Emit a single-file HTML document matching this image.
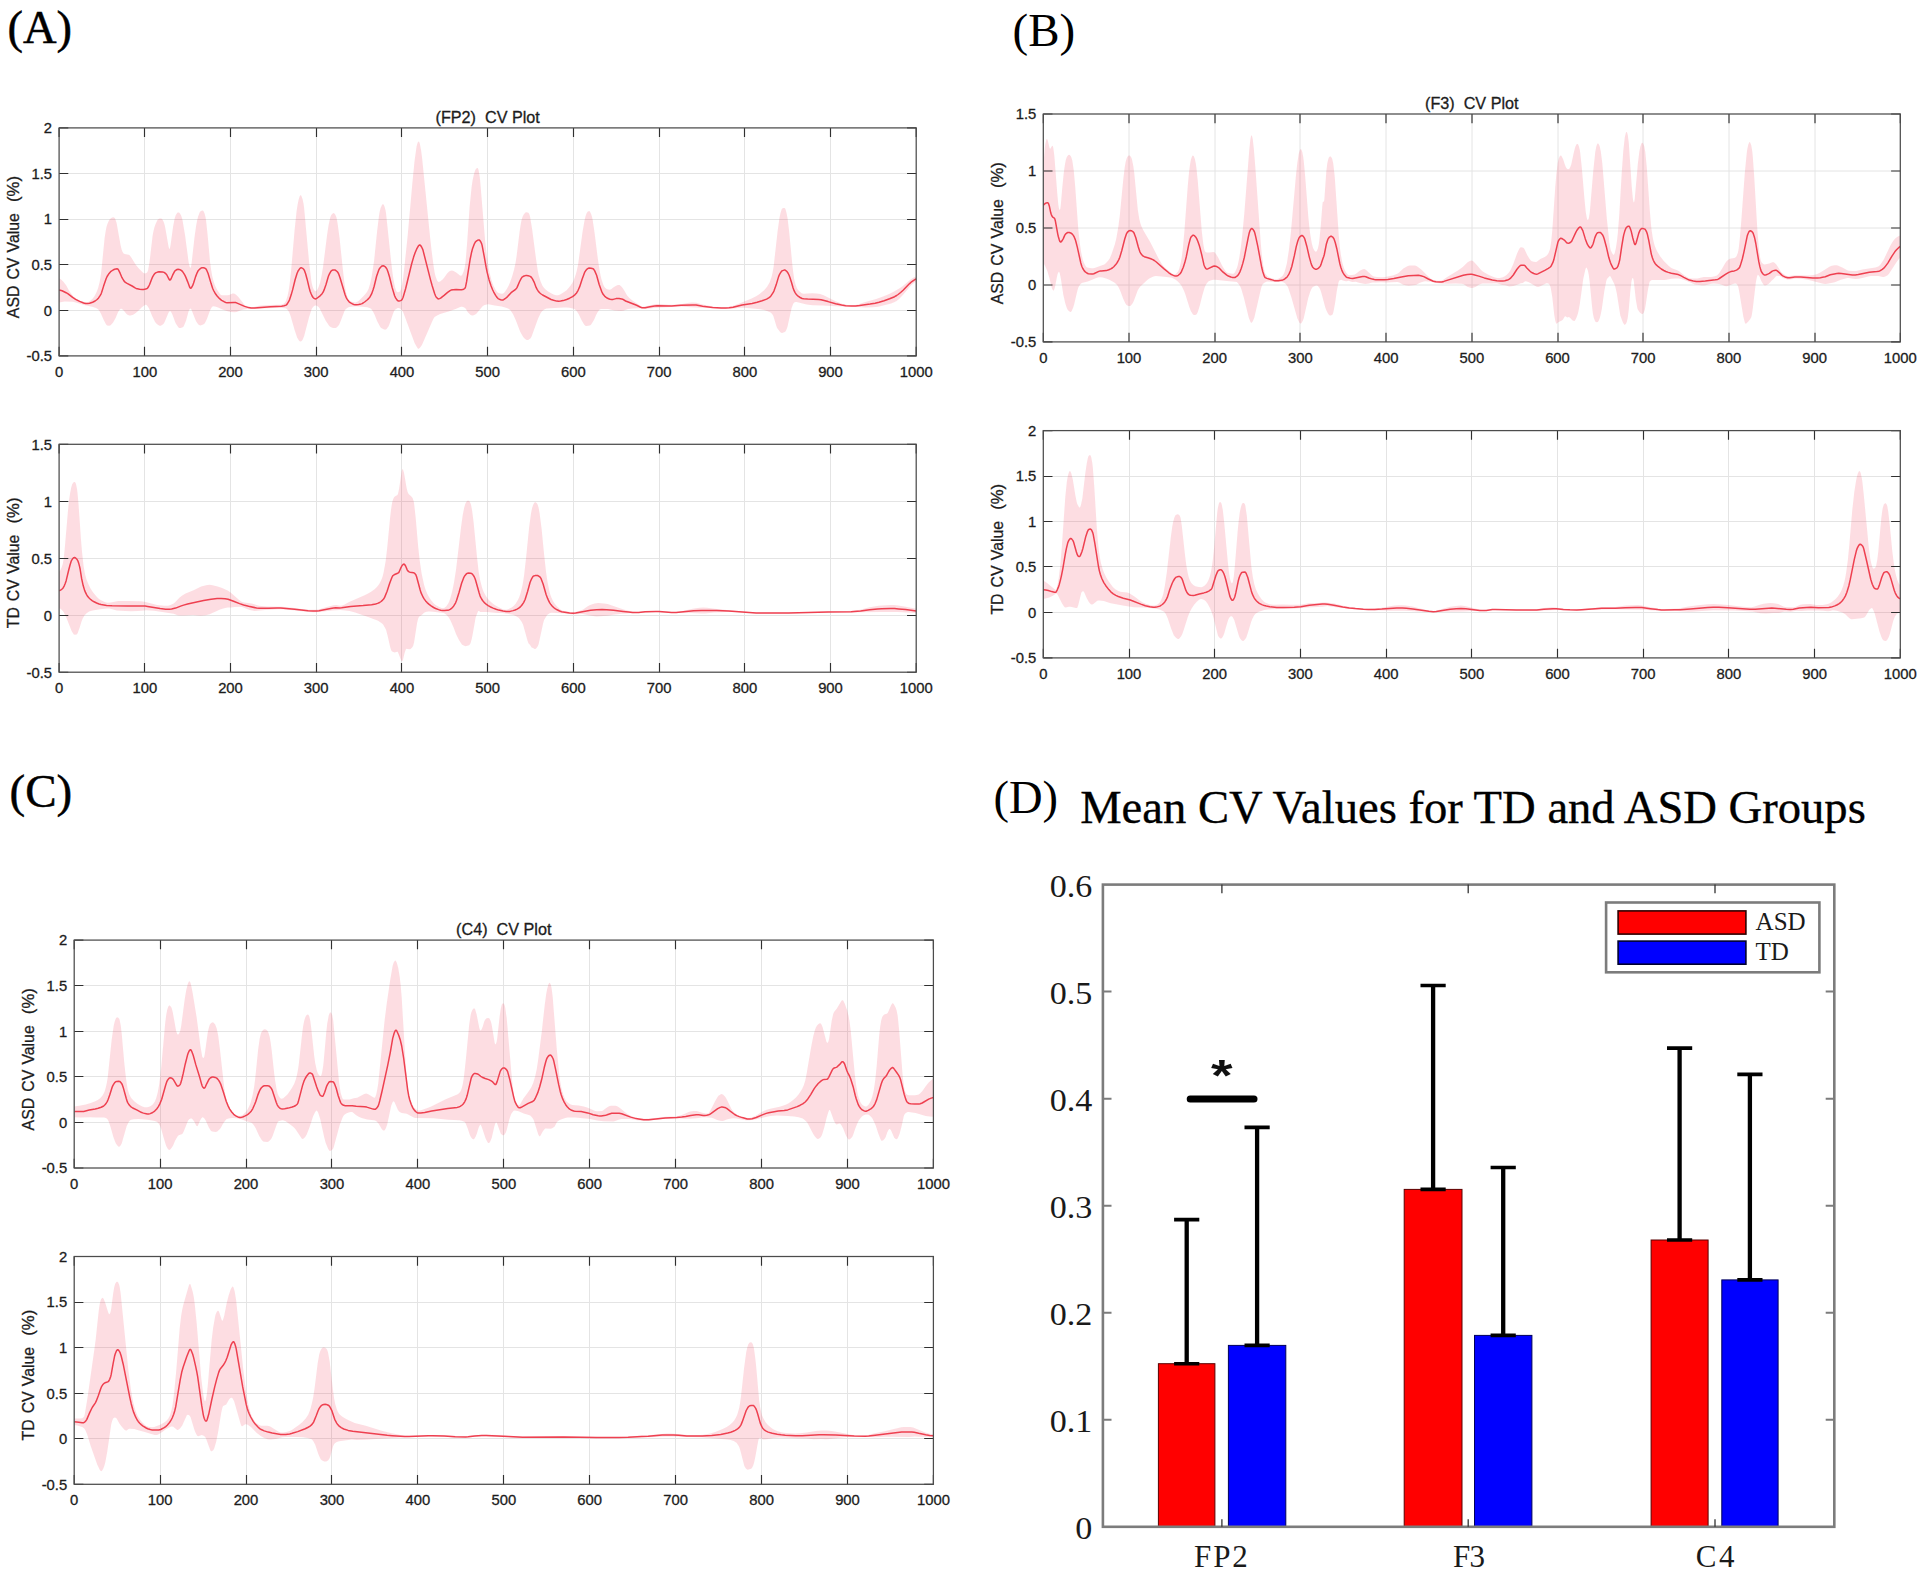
<!DOCTYPE html>
<html lang="en"><head><meta charset="utf-8"><title>Mean CV Values for TD and ASD Groups</title>
<style>html,body{margin:0;padding:0;background:#fff}svg{display:block}</style></head>
<body>
<svg width="1921" height="1574" viewBox="0 0 1921 1574">
<rect width="1921" height="1574" fill="#fff"/>
<g id="plotA1">
<clipPath id="clipA1"><rect x="59.1" y="127.9" width="857.1" height="228.0"/></clipPath>
<path d="M144.5 127.9V355.9M230.5 127.9V355.9M316.5 127.9V355.9M401.5 127.9V355.9M487.5 127.9V355.9M573.5 127.9V355.9M659.5 127.9V355.9M744.5 127.9V355.9M830.5 127.9V355.9M59.1 310.5H916.25M59.1 264.5H916.25M59.1 219.5H916.25M59.1 173.5H916.25" stroke="#e4e4e4" stroke-width="1" fill="none"/>
<path d="M59.1 278.2L61.1 279.4L63.6 281.9L66.1 285.2L69.1 290.7L71.6 294.2L74.1 296.9L77.1 299.1L79.1 300.2L81.1 301.1L84.6 302.1L86.6 302.4L87.6 302.2L89.1 301.6L90.6 300.6L92.6 298.8L94.6 296.0L96.6 292.0L98.1 288.0L99.6 282.2L100.6 276.5L101.6 268.5L104.6 238.0L105.6 231.5L106.6 226.6L107.6 223.4L108.6 221.2L109.6 219.6L111.1 218.1L113.1 217.3L114.1 217.4L115.1 218.6L116.6 223.0L120.6 245.3L121.6 249.4L122.6 252.1L123.6 253.4L124.6 254.1L128.6 254.7L129.6 255.3L131.1 257.2L135.6 264.4L138.6 268.2L143.1 272.8L144.1 273.3L145.1 273.4L146.1 273.0L147.1 272.4L147.6 271.6L148.1 270.2L149.6 261.4L152.6 235.7L153.6 230.6L154.6 226.8L155.6 224.0L157.1 220.7L157.6 219.8L158.6 218.9L159.6 218.5L161.1 218.4L162.1 219.0L163.6 221.7L164.6 224.8L165.1 227.0L168.6 246.8L169.1 248.6L169.6 248.9L170.1 247.5L170.6 244.8L173.1 226.6L174.6 218.7L175.6 215.5L176.6 213.7L177.6 212.6L178.1 212.4L179.1 212.6L180.1 213.7L181.1 215.5L182.1 218.5L182.6 220.7L185.1 235.4L188.6 262.0L189.6 266.6L190.1 267.8L190.6 267.8L191.1 266.2L191.6 263.2L194.6 236.5L196.1 225.9L197.1 220.5L198.1 216.6L199.6 212.6L200.6 211.2L201.6 210.7L202.6 210.6L203.1 210.7L203.6 211.2L204.6 213.5L205.6 217.6L206.1 220.7L207.6 234.7L210.1 262.3L211.1 269.6L212.1 275.4L213.6 281.5L215.1 285.7L217.1 289.7L220.1 294.2L221.1 295.0L222.1 295.3L227.6 295.3L229.1 295.1L232.6 293.5L233.6 293.4L234.6 293.7L236.1 294.8L238.6 297.3L244.6 304.9L245.6 305.6L247.1 306.3L250.1 307.2L253.1 307.2L259.1 305.8L262.1 305.4L270.1 304.9L280.6 304.7L282.1 304.5L283.1 304.1L284.6 302.9L285.6 301.6L286.1 300.6L287.6 295.7L288.6 291.0L289.6 284.3L291.1 270.8L294.6 230.0L296.6 211.1L297.6 204.4L298.6 199.8L299.6 196.4L300.1 195.5L300.6 195.2L301.1 195.5L301.6 196.4L302.6 199.2L303.6 204.0L304.1 207.7L309.1 262.1L311.1 279.1L311.6 282.4L312.6 286.8L313.6 289.2L314.6 290.7L315.1 291.1L315.6 291.3L316.1 291.1L317.1 290.0L318.6 287.0L320.1 282.4L321.6 275.5L323.1 266.6L327.1 234.7L328.6 224.9L330.1 218.1L331.1 215.3L332.1 213.9L333.1 213.2L333.6 213.1L334.1 213.3L335.1 214.3L336.1 216.4L336.6 218.1L337.6 223.4L339.6 238.2L342.6 267.2L344.6 284.4L346.1 292.4L347.1 296.0L348.1 298.8L349.1 300.5L350.6 301.4L354.1 302.3L355.6 302.4L356.6 302.1L357.6 301.6L359.1 300.4L363.6 296.1L365.6 293.8L367.1 291.7L368.6 288.7L370.1 283.8L371.6 277.1L374.1 260.7L377.1 231.2L379.1 215.1L379.6 212.1L380.6 208.0L382.1 204.7L382.6 204.3L383.1 204.2L383.6 204.6L384.6 206.7L385.6 210.5L386.1 213.7L391.1 261.3L392.6 273.7L393.6 280.2L395.1 287.4L396.1 290.6L396.6 291.6L397.1 292.1L398.1 292.2L399.1 291.9L400.1 291.2L401.1 288.8L402.1 284.2L403.1 278.0L404.6 265.2L407.6 236.2L412.6 180.4L414.6 160.5L416.6 146.3L417.6 142.8L418.1 141.9L418.6 141.5L419.1 141.8L419.6 142.9L420.1 144.9L421.1 150.5L422.1 158.1L430.1 237.2L431.6 250.7L433.6 266.1L434.6 272.4L435.6 276.6L437.1 280.5L437.6 281.3L438.1 281.8L438.6 282.0L440.1 281.5L442.6 279.4L444.1 277.8L447.1 273.5L449.1 271.6L450.6 270.7L452.1 270.4L453.6 270.9L456.6 272.8L459.6 275.2L460.6 275.7L461.6 275.4L462.1 274.9L463.6 271.5L464.6 267.9L465.6 261.5L467.1 243.1L469.6 207.0L471.6 187.1L472.6 180.3L474.1 173.5L475.1 170.4L475.6 169.4L476.1 168.7L477.1 168.0L477.6 168.0L478.1 168.7L478.6 170.3L479.6 176.0L480.1 180.1L485.1 240.6L486.6 254.0L488.6 267.8L489.6 272.8L491.1 278.8L492.6 283.6L493.6 286.1L495.6 289.8L497.1 291.9L498.1 292.7L500.1 293.5L502.1 293.8L503.1 293.6L504.1 292.8L505.1 291.6L507.1 288.5L508.6 285.7L510.1 282.2L512.1 276.6L514.1 269.6L515.6 262.5L516.6 255.9L519.6 231.8L520.6 225.0L521.6 219.8L522.6 216.7L523.6 214.7L525.1 212.7L526.1 212.3L527.6 212.6L528.6 213.1L529.1 213.8L529.6 215.0L530.1 217.0L532.1 228.9L536.1 259.6L537.6 269.8L538.6 274.7L540.6 281.4L542.6 285.9L544.1 287.9L545.6 289.5L548.1 291.4L551.6 293.5L554.1 294.7L556.1 295.2L558.1 295.2L560.1 294.6L562.6 293.1L566.6 290.2L568.6 288.1L570.6 285.6L572.6 282.4L574.1 279.3L575.6 275.1L576.6 271.6L578.1 264.5L582.6 231.5L584.6 220.1L585.6 216.0L586.6 213.2L587.6 211.8L588.6 211.2L589.1 211.1L589.6 211.3L590.1 211.9L591.1 213.9L592.1 217.2L592.6 219.6L594.6 233.0L597.6 256.9L599.6 270.5L600.6 275.7L601.6 279.7L603.1 284.3L604.1 286.4L605.1 287.7L606.6 288.9L608.1 289.6L609.6 289.8L611.1 289.2L613.6 287.2L616.6 285.5L618.1 285.0L619.6 285.1L621.1 286.3L622.6 288.1L624.1 290.3L627.1 295.5L629.6 298.3L633.1 301.1L639.1 305.1L641.1 306.2L642.6 306.7L645.1 306.5L650.1 305.2L656.6 304.0L659.6 304.0L668.6 304.8L672.6 304.8L682.1 303.9L689.1 302.7L692.6 302.4L696.1 302.8L702.6 304.5L712.6 306.5L720.6 307.4L725.6 307.4L732.6 306.0L738.1 304.1L751.6 298.6L756.1 296.2L759.6 294.0L764.1 290.2L767.1 286.8L769.6 282.5L771.6 276.7L772.6 272.6L773.6 266.8L777.6 231.2L779.6 217.1L780.6 212.7L781.6 209.6L782.1 208.8L782.6 208.3L783.6 208.0L784.6 208.0L785.1 208.5L785.6 209.6L786.6 213.2L787.6 218.6L789.1 231.1L792.6 267.3L794.1 278.7L795.6 284.7L797.1 288.4L798.1 290.0L799.1 291.1L801.6 293.2L802.6 293.6L803.6 293.8L812.1 293.3L816.6 293.6L820.1 294.0L823.6 295.3L835.1 301.1L842.6 304.1L845.1 304.6L848.1 304.9L852.6 305.2L855.1 305.1L858.1 304.4L863.6 302.6L876.1 299.0L883.1 296.6L888.6 294.3L894.1 291.5L899.6 288.3L902.6 286.2L910.6 279.4L913.6 277.6L916.2 276.6L916.2 281.4L914.1 282.7L911.1 285.3L903.1 294.8L899.1 298.9L896.6 301.0L894.1 302.3L891.1 303.4L882.1 305.8L878.1 306.7L872.6 307.3L865.1 307.4L855.1 306.8L836.1 306.3L822.6 305.5L812.6 305.3L806.6 304.5L796.6 302.1L795.6 302.1L794.6 302.3L793.6 303.2L793.1 304.1L791.6 308.1L787.6 326.3L786.6 329.3L785.6 331.2L785.1 331.7L784.1 332.3L782.1 332.9L781.1 332.7L780.1 332.1L777.1 328.1L776.1 325.3L773.6 316.7L773.1 315.4L772.1 313.9L770.6 312.6L767.1 310.9L764.1 309.9L760.6 309.2L744.1 307.7L740.6 307.8L732.1 308.8L722.6 308.8L691.1 307.3L681.1 306.4L656.1 307.8L645.1 308.9L640.1 308.3L632.6 308.6L628.1 309.1L623.1 310.7L621.1 310.9L614.6 310.4L608.1 309.0L601.1 308.9L600.1 309.2L599.6 309.6L597.6 312.2L596.1 314.9L594.1 319.7L592.1 323.1L591.1 324.5L590.6 325.0L589.6 325.5L586.6 326.1L585.6 325.9L585.1 325.6L584.1 324.4L581.6 320.2L578.6 314.0L576.6 311.1L575.1 309.4L573.6 308.7L569.6 307.8L566.6 307.4L563.1 307.4L546.6 308.4L544.6 309.2L542.6 310.7L541.6 311.7L540.6 313.3L538.1 318.6L531.6 336.5L530.6 338.2L529.6 339.1L528.1 340.0L527.1 340.1L526.1 339.7L524.6 338.5L523.6 337.5L522.6 336.1L520.1 331.4L516.1 321.0L513.1 314.2L510.6 310.6L509.6 309.6L508.1 308.6L505.1 307.4L501.6 306.6L494.6 305.5L489.6 304.4L488.1 304.3L486.6 304.4L484.1 305.3L482.6 306.3L476.1 313.9L473.6 315.3L472.1 315.6L470.6 315.0L469.1 313.6L467.6 311.9L466.1 309.3L465.1 308.0L463.1 307.0L462.1 306.8L461.1 306.8L459.6 307.2L455.6 308.9L448.6 311.4L440.1 314.0L437.1 315.4L434.6 317.1L433.6 318.4L432.6 320.4L422.6 343.6L421.6 345.5L420.1 347.6L419.1 348.6L418.6 348.8L418.1 348.7L417.1 347.6L414.6 343.0L403.1 312.1L402.1 310.5L400.6 308.9L399.6 308.2L398.6 307.9L397.6 308.0L396.1 308.9L395.1 309.8L394.1 311.1L393.1 313.5L389.6 323.8L388.6 326.2L386.6 328.9L386.1 329.3L385.1 329.7L383.6 329.3L382.1 328.6L381.1 327.9L380.1 326.7L377.1 321.0L374.6 314.7L373.1 311.7L371.1 308.8L369.6 308.0L367.1 307.3L364.6 306.9L356.1 306.3L353.6 306.4L351.1 306.7L349.1 307.1L347.6 307.8L345.6 309.3L344.6 310.8L340.1 322.6L339.1 324.7L338.1 326.0L336.6 327.4L335.6 328.0L334.6 328.1L333.1 327.9L331.1 327.3L330.1 326.7L329.1 325.7L325.6 320.4L319.6 308.3L318.6 307.1L317.1 306.0L316.1 305.6L315.1 305.6L314.1 306.1L313.1 307.0L312.1 308.3L311.6 309.3L309.1 317.0L304.1 336.3L302.6 339.7L301.6 341.1L300.6 341.6L299.6 341.2L298.6 340.1L297.1 337.4L294.6 330.1L290.6 316.1L289.1 312.1L287.1 309.2L286.1 308.4L285.1 308.2L282.6 307.9L279.6 307.8L247.1 308.9L243.6 309.6L240.1 310.6L236.6 311.9L234.6 312.2L230.6 311.9L227.6 311.3L223.1 309.8L218.1 307.4L215.1 306.5L213.1 306.3L212.6 306.6L211.6 307.6L210.1 310.2L207.1 318.4L205.6 321.7L204.6 323.4L203.6 324.3L202.6 324.8L201.1 325.3L200.1 325.4L199.1 325.1L198.6 324.7L197.6 323.5L196.1 321.2L195.1 319.1L191.6 309.9L191.1 308.9L190.6 308.5L190.1 308.7L189.6 309.2L188.6 311.2L186.1 320.4L184.6 324.3L183.6 326.4L183.1 327.0L182.1 327.6L180.6 328.0L179.6 328.1L179.1 327.9L178.1 327.1L176.1 324.1L175.1 322.0L172.6 314.9L171.1 312.1L170.1 311.1L169.6 311.2L168.6 312.6L164.6 321.9L163.6 323.7L162.1 325.0L160.6 325.7L159.6 325.7L158.1 325.0L156.1 323.3L155.1 322.0L152.1 315.9L149.1 308.5L147.1 305.4L146.1 304.8L145.6 304.8L144.6 305.2L142.1 307.1L138.1 311.1L135.1 313.6L133.1 314.7L130.6 315.6L129.1 315.5L127.1 314.4L126.1 313.6L124.1 311.0L122.6 309.5L121.6 308.8L120.6 308.8L119.6 309.8L118.1 312.1L115.6 317.9L113.1 322.6L110.6 325.2L110.1 325.5L109.1 325.8L107.1 325.4L106.1 324.6L103.6 319.7L101.1 314.0L99.6 311.3L98.1 309.3L96.1 308.1L92.1 306.8L85.1 305.3L73.1 301.7L64.6 301.6L59.1 302.6Z" fill="#f23f5c" fill-opacity="0.175" clip-path="url(#clipA1)"/>
<path d="M59.1 289.9L62.1 290.8L66.1 292.7L68.1 293.9L72.6 297.4L75.6 299.3L79.6 301.4L83.6 303.0L85.6 303.5L87.6 303.6L89.6 303.2L92.6 302.2L95.1 301.0L97.1 299.5L98.6 297.9L100.1 295.7L101.1 293.8L101.6 292.5L103.6 286.1L106.1 278.7L107.1 276.5L109.1 273.4L110.6 271.7L113.1 270.0L114.6 269.3L117.1 268.8L117.6 268.9L118.1 269.3L118.6 270.1L120.1 273.2L121.6 276.8L122.6 278.7L124.1 281.1L125.1 282.1L126.6 283.1L132.1 286.0L135.1 287.9L136.1 288.4L139.6 289.3L142.1 289.6L143.6 289.5L145.6 289.0L147.1 288.5L147.6 288.0L148.6 286.5L149.6 284.5L151.6 279.2L152.6 276.9L154.1 274.4L154.6 273.8L155.6 272.9L157.6 272.1L159.1 271.8L162.6 272.0L164.1 272.4L165.1 273.1L166.6 274.5L169.1 279.3L169.6 279.9L170.1 280.0L170.6 279.6L171.1 278.7L172.6 275.2L174.6 271.3L175.6 270.4L177.1 269.5L178.1 269.3L179.1 269.4L180.6 270.0L181.6 270.6L182.6 271.6L184.1 273.8L185.1 275.6L186.1 277.9L187.6 281.6L189.6 287.0L190.1 287.8L190.6 288.2L191.1 288.0L191.6 287.4L192.6 285.7L193.6 283.0L195.6 276.6L197.1 272.8L198.1 270.8L199.1 269.7L200.6 268.4L201.6 267.8L202.6 267.7L203.6 267.8L205.1 268.3L205.6 268.6L206.1 269.2L206.6 270.0L208.1 273.5L211.1 283.6L212.6 288.2L213.6 290.5L215.1 293.2L217.1 296.0L219.6 298.7L221.6 300.3L224.1 301.7L225.6 302.4L227.1 302.7L234.1 302.4L235.6 302.5L237.1 303.1L244.6 306.4L248.6 307.6L251.1 308.0L254.6 307.9L270.6 306.7L281.6 306.3L284.1 305.8L286.1 305.1L287.1 304.1L288.6 301.7L289.6 299.6L291.1 295.1L292.6 289.9L295.1 279.7L297.1 273.3L298.1 271.0L299.6 268.8L300.6 267.9L301.1 267.8L301.6 267.8L302.6 268.3L303.6 269.2L304.1 269.9L304.6 270.9L305.6 273.8L307.1 279.2L309.1 287.6L310.1 291.2L311.1 293.8L312.1 296.0L313.1 297.5L314.1 298.4L315.1 298.9L315.6 298.9L316.6 298.5L320.1 295.8L322.1 293.7L323.1 292.2L324.1 289.9L326.1 284.2L328.1 277.2L328.6 275.8L329.6 273.6L330.6 271.8L331.6 270.6L332.1 270.3L333.1 270.0L334.6 269.9L335.6 270.3L337.1 271.5L338.1 272.8L338.6 273.8L340.1 278.0L345.1 294.7L346.1 297.3L347.1 299.1L348.1 300.6L349.1 301.8L350.6 302.9L352.1 303.7L353.6 304.4L355.1 304.7L356.6 304.7L358.6 304.4L361.1 303.9L362.1 303.6L363.1 303.0L364.6 302.0L367.1 300.0L368.6 298.6L370.1 296.7L371.6 293.9L373.1 289.8L374.1 286.5L376.6 276.3L378.6 270.4L379.6 268.4L380.6 267.2L382.1 265.9L383.1 265.7L384.1 266.0L385.6 267.2L386.6 268.5L387.1 269.5L388.1 272.3L389.6 277.2L392.1 287.4L394.6 295.7L395.6 297.9L397.1 300.1L398.1 300.9L399.1 301.1L400.6 300.6L401.6 300.1L402.1 299.5L403.1 297.3L405.6 288.8L411.6 264.0L413.6 257.1L415.1 252.7L416.6 249.2L418.6 245.7L419.1 245.2L419.6 245.0L420.1 245.1L420.6 245.5L421.6 247.0L422.6 249.1L423.1 250.6L430.6 280.1L432.1 285.5L434.6 293.5L435.6 296.0L436.1 296.9L437.6 298.5L438.1 298.8L438.6 298.9L439.6 298.6L440.6 298.1L444.1 295.4L447.6 292.4L450.1 290.6L451.1 290.1L453.1 289.7L456.1 289.4L460.1 289.8L461.6 289.8L462.6 289.6L463.6 289.2L464.6 288.6L465.1 288.0L465.6 286.7L466.6 281.7L470.1 259.5L471.6 252.2L472.6 248.4L474.1 244.4L475.1 242.5L475.6 241.8L476.6 240.9L477.6 240.3L478.6 239.9L479.1 239.9L479.6 240.2L480.6 241.5L481.6 243.6L482.1 245.4L484.1 255.8L486.1 267.2L487.1 272.1L489.1 279.9L491.1 286.0L492.6 289.7L493.6 291.8L495.6 295.3L497.1 297.5L498.1 298.6L498.6 298.9L500.6 299.7L502.1 300.0L503.1 299.9L503.6 299.7L505.1 298.7L507.6 296.6L511.1 292.7L515.6 289.3L516.6 288.2L517.1 287.4L519.6 281.5L521.1 278.7L522.1 277.2L523.1 276.5L524.1 276.0L525.6 275.6L526.6 275.5L528.1 275.7L529.6 276.1L530.6 276.6L531.6 277.6L532.6 279.1L534.1 282.1L536.1 287.4L537.1 289.4L538.1 290.9L539.6 292.7L541.1 294.0L542.6 295.0L551.1 299.5L553.6 300.3L556.6 301.1L558.6 301.3L560.6 301.1L563.1 300.6L566.6 299.5L569.6 298.2L572.6 296.6L575.1 294.6L576.6 292.9L578.1 290.3L579.6 286.9L582.1 279.2L584.6 272.4L585.6 270.8L587.1 269.1L588.1 268.4L589.1 268.0L591.1 268.2L593.1 268.8L593.6 269.2L594.6 270.6L596.6 275.3L599.1 284.3L601.6 291.3L603.1 294.3L604.6 296.1L606.1 297.4L607.1 298.0L608.6 298.7L610.1 299.3L611.6 299.5L613.1 299.4L616.1 298.6L617.1 298.5L619.1 298.5L621.6 298.9L622.6 299.2L625.6 301.0L627.6 301.8L636.6 305.3L640.6 307.2L642.1 307.7L643.1 307.8L645.1 307.7L650.1 306.8L654.6 306.1L657.1 305.8L671.6 306.0L681.1 305.2L692.6 304.9L696.1 305.1L702.6 306.2L712.6 307.4L721.1 308.1L725.6 308.1L729.1 307.8L733.1 307.3L742.1 305.1L752.1 303.4L757.1 302.3L762.1 300.7L766.6 299.1L769.1 297.6L770.1 296.8L771.1 295.7L773.1 292.7L774.1 290.6L776.1 285.1L778.6 276.6L779.6 274.3L780.6 272.6L781.6 271.2L782.6 270.6L784.1 270.1L785.1 270.1L786.1 270.8L787.1 271.8L788.1 273.2L789.1 275.3L790.1 278.1L791.6 282.7L793.1 288.0L794.1 290.7L795.1 292.6L796.6 294.8L798.1 296.2L800.1 297.5L802.1 298.5L803.6 298.8L807.6 299.1L818.6 299.5L821.1 299.8L828.1 301.6L835.6 303.8L841.6 305.1L845.6 305.7L851.6 305.9L855.6 305.9L859.6 305.5L870.1 304.1L875.1 303.2L879.1 302.3L884.1 300.7L889.6 298.8L894.6 296.7L896.6 295.5L898.1 294.5L900.6 292.5L903.1 290.3L909.6 283.6L911.1 282.2L914.1 280.1L915.6 279.2L916.2 279.0" fill="none" stroke="#ee4050" stroke-width="1.5" stroke-linejoin="round" clip-path="url(#clipA1)"/>
<path d="M59.1 355.9v-9.2M59.1 127.9v9.2M144.5 355.9v-9.2M144.5 127.9v9.2M230.5 355.9v-9.2M230.5 127.9v9.2M316.5 355.9v-9.2M316.5 127.9v9.2M401.5 355.9v-9.2M401.5 127.9v9.2M487.5 355.9v-9.2M487.5 127.9v9.2M573.5 355.9v-9.2M573.5 127.9v9.2M659.5 355.9v-9.2M659.5 127.9v9.2M744.5 355.9v-9.2M744.5 127.9v9.2M830.5 355.9v-9.2M830.5 127.9v9.2M916.2 355.9v-9.2M916.2 127.9v9.2M59.1 355.9h9.2M916.25 355.9h-9.2M59.1 310.5h9.2M916.25 310.5h-9.2M59.1 264.5h9.2M916.25 264.5h-9.2M59.1 219.5h9.2M916.25 219.5h-9.2M59.1 173.5h9.2M916.25 173.5h-9.2M59.1 127.9h9.2M916.25 127.9h-9.2" stroke="#303030" stroke-width="1.15" fill="none"/>
<rect x="59.1" y="127.9" width="857.1" height="228.0" fill="none" stroke="#4c4c4c" stroke-width="1.25"/>
<g font-family='"Liberation Sans", Arial, Helvetica, sans-serif' font-size="14.8" fill="#1c1c1c" stroke="#1c1c1c" stroke-width="0.3"><text x="59.1" y="376.5" text-anchor="middle">0</text><text x="144.8" y="376.5" text-anchor="middle">100</text><text x="230.5" y="376.5" text-anchor="middle">200</text><text x="316.2" y="376.5" text-anchor="middle">300</text><text x="402.0" y="376.5" text-anchor="middle">400</text><text x="487.7" y="376.5" text-anchor="middle">500</text><text x="573.4" y="376.5" text-anchor="middle">600</text><text x="659.1" y="376.5" text-anchor="middle">700</text><text x="744.8" y="376.5" text-anchor="middle">800</text><text x="830.5" y="376.5" text-anchor="middle">900</text><text x="916.2" y="376.5" text-anchor="middle">1000</text><text x="52.1" y="361.2" text-anchor="end">-0.5</text><text x="52.1" y="315.6" text-anchor="end">0</text><text x="52.1" y="270.0" text-anchor="end">0.5</text><text x="52.1" y="224.4" text-anchor="end">1</text><text x="52.1" y="178.8" text-anchor="end">1.5</text><text x="52.1" y="133.2" text-anchor="end">2</text></g>
<text transform="rotate(-90)" y="18.5" font-family='"Liberation Sans", Arial, Helvetica, sans-serif' font-size="17" fill="#1c1c1c" stroke="#1c1c1c" stroke-width="0.3"><tspan x="-318.20" textLength="32.60" lengthAdjust="spacingAndGlyphs">ASD</tspan> <tspan x="-279.60" textLength="22.00" lengthAdjust="spacingAndGlyphs">CV</tspan> <tspan x="-252.40" textLength="39.30" lengthAdjust="spacingAndGlyphs">Value</tspan> <tspan x="-202.00" textLength="26.05" lengthAdjust="spacingAndGlyphs">(%)</tspan></text>
<text x="487.7" y="122.9" text-anchor="middle" font-family='"Liberation Sans", Arial, Helvetica, sans-serif' font-size="16.2" fill="#1c1c1c" stroke="#1c1c1c" stroke-width="0.3" xml:space="preserve">(FP2)  CV Plot</text>
</g>
<g id="plotA2">
<clipPath id="clipA2"><rect x="59.1" y="444.3" width="857.1" height="227.9"/></clipPath>
<path d="M144.5 444.3V672.2M230.5 444.3V672.2M316.5 444.3V672.2M401.5 444.3V672.2M487.5 444.3V672.2M573.5 444.3V672.2M659.5 444.3V672.2M744.5 444.3V672.2M830.5 444.3V672.2M59.1 615.5H916.25M59.1 558.5H916.25M59.1 501.5H916.25" stroke="#e4e4e4" stroke-width="1" fill="none"/>
<path d="M59.1 571.4L60.1 570.7L61.6 567.6L62.6 564.5L63.6 559.5L64.6 550.1L68.1 509.2L69.1 500.0L70.1 493.3L71.1 488.1L72.1 484.6L73.1 482.7L74.1 481.9L74.6 481.9L75.1 482.3L75.6 483.1L76.1 484.4L77.1 489.5L77.6 493.8L78.6 505.3L81.1 541.0L82.1 552.7L83.6 566.3L85.1 574.6L86.6 579.7L88.1 583.6L90.1 587.7L92.6 591.8L95.6 595.6L98.1 598.2L100.1 599.7L103.6 601.6L106.1 602.5L108.1 602.7L110.6 602.4L115.6 601.4L118.1 601.1L128.6 600.9L140.6 601.2L144.6 601.8L157.1 605.0L164.1 605.8L168.1 605.8L170.6 605.0L173.6 603.4L175.1 602.2L179.6 597.4L182.6 595.3L185.6 593.5L193.6 590.3L199.1 587.4L201.1 586.5L206.1 585.2L209.6 584.8L212.6 585.2L217.6 586.4L222.1 588.1L227.6 590.6L230.6 592.5L239.1 600.1L241.6 601.7L244.1 602.4L251.6 603.5L259.1 605.8L267.1 606.6L282.1 606.8L292.6 607.8L307.1 609.7L315.1 609.8L318.6 609.4L324.1 607.7L333.6 605.3L336.1 605.1L340.1 605.8L342.1 605.5L344.1 604.7L349.1 602.1L364.6 595.3L368.1 593.5L371.1 591.7L374.6 589.2L377.1 586.8L379.1 584.2L381.1 580.4L382.6 576.4L383.6 572.6L385.6 561.4L387.1 548.7L390.1 517.7L391.1 509.1L392.1 502.7L393.1 499.2L394.1 497.3L395.1 496.3L397.1 495.3L397.6 494.8L398.1 493.6L399.1 488.8L401.6 471.6L402.1 469.7L402.6 469.0L403.1 469.7L404.1 473.3L406.6 487.9L407.6 492.1L408.6 494.1L411.1 496.2L412.6 498.1L413.6 500.9L414.1 503.6L415.6 516.7L418.1 545.8L419.6 559.7L421.6 573.4L424.1 585.1L425.6 589.8L427.1 593.5L429.1 597.3L431.1 600.2L433.6 603.2L435.6 605.0L439.1 607.1L441.6 608.0L443.1 608.2L444.6 607.7L446.1 606.4L448.1 603.8L449.1 601.8L450.1 599.0L452.1 591.8L454.1 582.0L456.1 569.0L461.1 526.7L462.6 515.8L464.1 508.1L465.1 504.5L465.6 503.3L466.6 501.6L467.6 500.7L468.1 500.5L468.6 500.7L469.6 501.6L470.6 503.5L471.1 505.2L472.1 510.5L473.6 522.2L477.1 558.0L478.6 571.2L480.1 580.0L482.1 587.7L483.6 591.7L485.6 595.6L487.6 598.6L489.6 600.8L492.1 603.1L495.1 605.2L500.6 608.3L503.6 609.5L506.1 609.7L508.1 609.3L511.6 607.6L513.6 606.1L515.6 603.7L517.6 600.5L519.1 597.4L520.6 593.0L522.6 584.8L524.1 575.2L526.1 557.4L529.1 527.6L531.1 512.8L532.1 508.0L533.1 504.9L534.1 502.9L534.6 502.4L535.1 502.2L535.6 502.2L536.6 503.0L537.6 504.5L538.6 507.7L539.6 513.3L541.6 528.8L544.1 554.4L546.1 572.5L547.6 582.5L549.6 592.0L550.6 595.4L551.6 598.1L553.1 601.2L554.6 603.6L556.6 606.1L559.1 608.4L561.1 609.9L563.1 610.8L567.1 611.6L570.6 612.0L573.6 612.1L576.1 611.7L579.1 610.9L583.1 609.4L588.1 606.1L590.1 605.1L594.6 603.5L598.1 603.1L604.1 603.4L607.6 603.9L623.6 609.6L631.6 611.6L636.1 612.1L638.6 612.0L645.1 611.2L656.1 610.9L670.6 612.0L676.6 612.1L680.1 611.5L694.1 608.5L699.6 607.7L703.1 607.4L707.1 607.7L714.6 608.7L734.1 610.8L753.6 612.5L771.1 612.6L787.6 612.4L846.6 611.1L852.6 610.8L860.1 609.7L869.6 607.3L878.6 605.7L882.1 605.4L890.6 605.1L894.1 605.1L898.1 605.5L905.6 606.7L916.2 608.7L916.2 613.1L897.6 612.1L881.1 612.0L861.1 612.2L850.6 612.6L829.1 612.3L791.6 613.3L757.6 613.6L737.1 612.1L727.1 611.9L714.1 612.4L705.1 613.4L701.6 613.5L686.1 612.8L673.6 613.0L659.6 612.2L655.1 612.1L645.6 612.4L638.1 613.0L630.6 613.2L621.6 613.7L615.1 614.4L607.1 615.8L596.6 616.4L594.6 616.3L588.6 615.2L582.6 613.9L571.6 614.3L562.1 613.3L551.1 612.7L549.6 613.2L547.1 614.9L544.1 620.1L543.1 623.5L538.6 644.2L537.6 646.6L536.1 648.4L535.1 649.0L534.6 649.0L533.1 647.9L531.6 647.4L530.1 645.1L528.6 643.4L527.6 640.9L523.1 624.7L521.6 621.7L519.6 618.9L518.6 617.8L516.1 616.2L513.1 614.8L502.6 612.9L497.1 612.9L487.1 611.9L482.6 611.9L480.6 612.1L480.1 612.0L479.1 611.1L478.6 610.9L478.1 611.2L477.1 613.4L475.6 617.7L472.6 634.8L471.6 639.5L470.6 643.1L470.1 644.1L469.1 645.2L468.1 645.6L465.6 646.2L462.6 645.1L462.1 644.7L459.1 640.3L456.1 634.3L453.6 627.4L450.6 620.7L448.6 617.2L446.1 614.5L444.6 613.4L443.6 613.0L433.1 611.7L430.1 611.5L428.1 611.6L425.6 612.0L424.1 612.7L421.1 615.4L419.6 616.2L418.6 617.5L418.1 618.8L417.1 622.9L414.1 642.3L413.1 645.9L412.1 647.5L410.6 648.9L409.6 649.2L407.6 649.1L406.6 648.8L406.1 649.0L405.6 649.9L404.6 652.9L403.1 659.2L402.6 660.7L402.1 661.3L401.6 661.1L401.1 660.3L398.1 652.5L397.6 651.8L397.1 651.7L394.6 652.4L392.1 651.4L391.6 650.9L391.1 649.9L390.1 646.7L387.6 635.7L386.1 630.1L385.1 627.9L383.1 624.6L382.1 623.4L378.1 620.7L368.1 616.9L355.1 612.5L349.6 611.1L343.1 610.2L340.1 610.0L332.1 610.6L319.1 612.1L314.1 612.3L308.6 611.9L295.6 610.5L282.1 609.3L278.1 609.2L265.1 609.9L257.6 610.8L254.6 610.9L252.1 610.6L249.6 610.0L242.1 607.1L240.1 606.8L234.6 607.0L231.1 607.6L227.6 607.5L224.1 608.2L220.1 609.4L209.6 614.2L205.6 615.2L200.6 615.7L193.1 615.0L184.1 615.6L179.6 615.6L177.6 615.3L173.6 613.7L154.1 610.8L146.1 610.2L141.1 610.8L137.6 611.0L131.1 611.2L125.1 611.0L116.6 610.4L109.6 608.5L107.1 608.4L100.1 609.3L92.6 610.6L89.1 611.6L86.6 613.2L84.6 615.2L82.6 618.7L81.6 621.2L79.6 627.8L77.6 633.3L77.1 634.0L76.6 634.4L74.6 634.7L73.6 634.2L71.6 631.1L66.6 618.3L63.6 612.1L62.6 610.7L61.1 609.3L60.1 608.6L59.1 608.3Z" fill="#f23f5c" fill-opacity="0.175" clip-path="url(#clipA2)"/>
<path d="M59.1 590.5L59.6 590.5L60.6 590.1L62.1 589.0L63.1 587.9L64.1 586.1L65.1 583.8L66.1 580.9L68.6 570.5L70.1 564.8L71.1 561.5L71.6 560.3L72.6 558.8L73.6 557.8L74.1 557.6L74.6 557.5L75.6 557.9L77.1 559.5L78.1 561.4L78.6 562.9L79.6 566.6L80.1 569.0L81.6 578.4L83.1 585.3L84.6 590.4L85.6 592.7L86.6 594.7L87.6 596.3L88.6 597.5L90.1 599.0L92.1 600.6L94.1 601.8L96.6 603.0L99.1 604.0L101.1 604.5L106.6 605.4L112.1 605.7L127.6 606.0L145.1 606.1L147.6 606.4L160.1 608.6L165.6 609.2L169.1 609.3L171.6 609.0L175.6 608.1L180.6 606.1L183.6 605.1L187.6 604.0L192.1 602.9L203.6 600.6L211.1 599.2L217.1 598.5L221.1 598.4L225.1 598.7L228.1 599.2L233.6 601.2L239.6 603.6L243.6 605.0L248.6 606.3L256.6 608.0L259.1 608.2L268.6 608.2L277.1 607.9L280.6 608.0L294.6 609.2L308.1 610.8L313.1 611.0L316.6 611.0L319.1 610.7L330.6 608.4L333.6 607.9L335.6 607.8L339.6 607.9L341.6 607.8L350.6 606.4L363.1 605.6L371.6 604.8L375.6 604.0L377.6 603.4L379.6 602.5L381.1 601.5L382.6 600.1L383.6 599.0L384.6 597.4L387.1 591.2L389.6 583.6L391.1 579.5L392.1 577.0L392.6 576.1L393.1 575.5L394.1 574.8L397.6 573.3L398.6 572.7L399.1 572.0L401.1 567.3L402.1 565.5L403.1 564.5L403.6 564.2L404.1 564.1L404.6 564.5L405.6 566.0L407.1 569.6L407.6 570.6L408.1 571.2L409.1 571.9L410.1 572.2L413.6 572.7L414.6 573.3L415.6 574.4L416.1 575.4L416.6 576.8L420.1 589.8L421.1 592.9L423.1 597.2L424.1 598.9L425.6 600.9L427.1 602.6L429.1 604.4L431.1 605.9L433.6 607.5L435.6 608.5L438.6 609.6L440.6 610.2L442.6 610.5L444.6 610.5L447.1 610.3L448.1 610.2L449.1 609.9L450.1 609.3L451.6 608.3L452.6 607.4L453.6 606.1L455.6 602.8L456.6 600.3L459.1 592.2L461.6 583.3L463.6 577.9L464.6 576.0L466.1 574.2L467.1 573.4L467.6 573.2L468.6 573.1L470.6 573.3L471.6 573.5L472.6 574.4L474.1 576.5L475.1 578.7L475.6 580.3L479.1 592.8L480.1 596.0L480.6 597.2L481.6 599.0L482.6 600.5L484.1 602.4L486.1 604.2L488.1 605.6L490.1 606.7L493.1 608.1L496.1 609.3L498.6 610.1L503.1 611.1L506.1 611.6L508.1 611.6L510.1 611.4L513.1 610.6L515.1 610.0L517.1 609.1L519.1 607.9L520.6 606.6L521.6 605.5L523.6 602.6L525.1 599.5L527.6 591.5L530.1 582.3L531.6 578.8L532.6 577.0L533.1 576.4L533.6 576.0L535.1 575.6L536.6 575.4L537.6 575.5L539.1 576.3L540.1 577.1L541.1 578.7L543.1 584.0L546.1 594.5L547.6 598.4L548.6 600.7L549.6 602.6L550.6 604.1L552.1 606.0L553.6 607.5L555.1 608.7L557.1 609.8L559.6 611.0L561.6 611.7L563.1 612.1L569.6 613.1L573.1 613.2L575.6 613.0L590.6 610.2L596.6 609.8L602.1 609.6L606.6 609.7L613.6 610.3L623.1 611.5L628.6 612.1L632.6 612.5L636.1 612.6L638.6 612.5L645.1 611.8L656.1 611.5L659.1 611.6L671.6 612.5L676.1 612.6L693.6 610.8L701.6 610.5L708.6 610.4L716.6 610.6L728.6 611.1L756.1 613.0L773.1 613.1L788.6 612.9L828.1 611.9L851.1 611.8L860.6 610.9L869.6 609.7L877.6 608.9L881.6 608.7L890.6 608.5L894.6 608.6L898.6 608.9L905.6 609.5L916.2 610.9" fill="none" stroke="#ee4050" stroke-width="1.5" stroke-linejoin="round" clip-path="url(#clipA2)"/>
<path d="M59.1 672.2v-9.2M59.1 444.3v9.2M144.5 672.2v-9.2M144.5 444.3v9.2M230.5 672.2v-9.2M230.5 444.3v9.2M316.5 672.2v-9.2M316.5 444.3v9.2M401.5 672.2v-9.2M401.5 444.3v9.2M487.5 672.2v-9.2M487.5 444.3v9.2M573.5 672.2v-9.2M573.5 444.3v9.2M659.5 672.2v-9.2M659.5 444.3v9.2M744.5 672.2v-9.2M744.5 444.3v9.2M830.5 672.2v-9.2M830.5 444.3v9.2M916.2 672.2v-9.2M916.2 444.3v9.2M59.1 672.2h9.2M916.25 672.2h-9.2M59.1 615.5h9.2M916.25 615.5h-9.2M59.1 558.5h9.2M916.25 558.5h-9.2M59.1 501.5h9.2M916.25 501.5h-9.2M59.1 444.3h9.2M916.25 444.3h-9.2" stroke="#303030" stroke-width="1.15" fill="none"/>
<rect x="59.1" y="444.3" width="857.1" height="227.9" fill="none" stroke="#4c4c4c" stroke-width="1.25"/>
<g font-family='"Liberation Sans", Arial, Helvetica, sans-serif' font-size="14.8" fill="#1c1c1c" stroke="#1c1c1c" stroke-width="0.3"><text x="59.1" y="692.8" text-anchor="middle">0</text><text x="144.8" y="692.8" text-anchor="middle">100</text><text x="230.5" y="692.8" text-anchor="middle">200</text><text x="316.2" y="692.8" text-anchor="middle">300</text><text x="402.0" y="692.8" text-anchor="middle">400</text><text x="487.7" y="692.8" text-anchor="middle">500</text><text x="573.4" y="692.8" text-anchor="middle">600</text><text x="659.1" y="692.8" text-anchor="middle">700</text><text x="744.8" y="692.8" text-anchor="middle">800</text><text x="830.5" y="692.8" text-anchor="middle">900</text><text x="916.2" y="692.8" text-anchor="middle">1000</text><text x="52.1" y="677.5" text-anchor="end">-0.5</text><text x="52.1" y="620.5" text-anchor="end">0</text><text x="52.1" y="563.5" text-anchor="end">0.5</text><text x="52.1" y="506.6" text-anchor="end">1</text><text x="52.1" y="449.6" text-anchor="end">1.5</text></g>
<text transform="rotate(-90)" y="18.5" font-family='"Liberation Sans", Arial, Helvetica, sans-serif' font-size="17" fill="#1c1c1c" stroke="#1c1c1c" stroke-width="0.3"><tspan x="-628.20" textLength="21.00" lengthAdjust="spacingAndGlyphs">TD</tspan> <tspan x="-601.15" textLength="22.00" lengthAdjust="spacingAndGlyphs">CV</tspan> <tspan x="-573.95" textLength="39.30" lengthAdjust="spacingAndGlyphs">Value</tspan> <tspan x="-523.55" textLength="26.05" lengthAdjust="spacingAndGlyphs">(%)</tspan></text>
</g>
<g id="plotB1">
<clipPath id="clipB1"><rect x="1043.3" y="114.0" width="857.0" height="227.9"/></clipPath>
<path d="M1129.0 114.0V341.9M1215.0 114.0V341.9M1300.0 114.0V341.9M1386.0 114.0V341.9M1472.0 114.0V341.9M1558.0 114.0V341.9M1643.0 114.0V341.9M1729.0 114.0V341.9M1815.0 114.0V341.9M1043.3 285.0H1900.3M1043.3 228.0H1900.3M1043.3 171.0H1900.3" stroke="#e4e4e4" stroke-width="1" fill="none"/>
<path d="M1043.3 166.2L1044.8 148.0L1045.3 144.0L1046.3 139.5L1046.8 138.9L1047.3 139.3L1047.8 140.5L1049.3 147.1L1049.8 148.4L1050.3 148.7L1050.8 148.1L1051.8 146.3L1052.3 145.8L1052.8 146.1L1053.3 147.8L1054.3 155.3L1057.3 193.8L1058.3 204.4L1058.8 207.8L1059.3 209.5L1059.8 209.9L1060.3 208.7L1060.8 205.1L1062.3 187.4L1063.8 172.6L1064.8 165.2L1065.8 160.0L1066.8 157.0L1067.3 156.2L1068.3 155.1L1069.3 154.8L1069.8 155.1L1070.8 156.2L1071.3 157.2L1072.3 160.6L1073.8 170.8L1075.3 187.8L1078.3 229.5L1079.8 243.2L1081.3 253.1L1082.8 259.8L1083.8 262.6L1085.3 265.6L1086.3 266.9L1087.3 267.5L1091.3 268.2L1093.3 268.2L1095.3 267.7L1102.8 265.1L1104.3 264.4L1105.8 263.3L1108.3 260.6L1109.8 258.2L1111.3 254.8L1113.3 249.1L1114.8 244.4L1116.3 238.5L1118.3 227.1L1119.8 215.4L1123.3 179.0L1124.8 166.7L1125.8 161.3L1126.8 157.9L1127.8 156.3L1128.8 155.5L1129.3 155.4L1129.8 155.6L1130.8 156.7L1131.8 158.8L1133.3 166.0L1134.3 173.6L1137.8 209.7L1139.3 219.0L1140.3 223.0L1141.3 226.0L1143.3 230.3L1150.3 242.2L1158.8 259.0L1161.8 263.9L1163.8 266.4L1165.8 268.4L1172.3 273.7L1173.8 274.4L1174.8 274.4L1175.8 274.0L1176.8 273.1L1178.3 270.9L1179.3 268.6L1180.8 262.6L1181.8 256.8L1182.8 248.7L1184.3 232.4L1187.8 185.6L1188.8 174.6L1189.8 166.1L1190.8 160.1L1191.8 157.0L1192.3 156.1L1192.8 155.6L1193.3 155.7L1193.8 156.3L1194.8 158.8L1195.8 163.6L1196.3 167.1L1197.8 181.3L1201.8 231.5L1203.3 243.9L1204.3 249.5L1204.8 251.0L1205.3 251.8L1205.8 252.2L1206.8 252.5L1209.3 252.6L1213.3 251.9L1214.3 252.2L1214.8 252.5L1216.3 254.5L1218.3 257.8L1222.3 266.0L1224.8 270.0L1226.3 271.9L1227.3 272.7L1229.3 273.3L1232.3 273.7L1233.3 273.7L1233.8 273.4L1234.8 272.4L1235.8 270.6L1236.8 268.2L1237.8 265.1L1239.3 257.7L1240.8 247.7L1242.3 234.6L1244.3 213.4L1249.3 149.5L1250.3 140.1L1250.8 137.1L1251.3 135.6L1251.8 135.6L1252.3 137.0L1252.8 139.6L1253.8 148.4L1255.3 166.8L1260.8 243.5L1261.8 254.8L1263.3 265.8L1264.8 272.5L1265.3 273.7L1266.3 275.1L1267.8 276.5L1269.3 277.4L1272.3 278.5L1274.8 279.1L1276.8 279.2L1278.8 278.6L1281.3 277.0L1282.8 275.6L1283.8 273.8L1284.8 271.2L1286.8 263.7L1288.8 250.8L1290.8 233.4L1295.8 176.9L1297.3 162.9L1298.8 153.4L1299.8 150.2L1300.3 149.4L1300.8 149.1L1301.3 149.5L1302.3 152.0L1303.3 157.4L1303.8 161.6L1305.3 178.0L1308.3 216.4L1309.3 226.8L1310.3 234.7L1311.8 243.2L1312.8 247.2L1313.3 248.5L1314.3 250.4L1315.3 251.5L1315.8 251.7L1316.3 251.5L1316.8 251.0L1317.8 248.8L1318.8 244.3L1319.3 240.7L1320.8 225.4L1322.3 205.7L1322.8 202.1L1323.3 201.4L1323.8 201.9L1324.3 199.9L1326.3 171.5L1327.3 163.2L1328.3 158.9L1328.8 157.8L1329.8 156.6L1330.3 156.4L1330.8 156.6L1331.8 158.0L1332.3 159.2L1333.3 163.7L1334.8 177.4L1338.8 235.8L1339.8 246.8L1340.8 254.6L1342.3 262.5L1343.3 266.1L1344.3 268.9L1345.8 271.9L1347.3 274.1L1348.3 275.0L1349.3 275.3L1351.8 275.1L1354.8 274.4L1356.3 273.5L1359.8 270.7L1362.3 269.5L1364.3 269.1L1365.8 269.7L1371.8 275.3L1372.8 276.0L1373.8 276.5L1376.8 276.9L1380.3 277.2L1382.8 277.2L1385.3 276.9L1392.8 275.4L1397.3 273.8L1398.8 272.8L1403.3 268.6L1407.8 266.0L1409.8 265.5L1414.8 265.5L1415.8 265.7L1417.3 266.4L1421.3 269.4L1426.8 275.0L1430.3 278.2L1431.8 279.3L1433.3 280.0L1434.8 280.3L1438.3 280.7L1440.8 280.7L1441.8 280.5L1443.3 279.7L1446.8 277.3L1458.3 270.2L1462.8 266.9L1467.3 262.4L1469.8 261.0L1471.3 260.5L1472.3 260.7L1473.3 261.3L1476.8 264.9L1480.8 269.7L1482.8 271.4L1485.3 273.0L1488.8 274.9L1494.8 277.6L1497.3 278.1L1499.8 277.9L1502.8 277.2L1504.8 276.3L1506.8 274.8L1509.3 272.0L1510.8 269.5L1513.3 264.1L1516.8 254.2L1518.3 250.8L1519.8 248.1L1520.3 247.6L1521.3 247.2L1523.3 247.7L1524.3 248.8L1527.3 255.3L1529.3 258.6L1530.8 260.5L1531.8 261.2L1533.8 261.8L1535.8 262.0L1536.8 261.7L1540.3 259.0L1544.8 256.9L1546.8 255.4L1547.8 254.2L1548.8 252.5L1549.8 249.8L1550.3 247.6L1551.3 240.6L1552.3 230.3L1555.3 186.2L1556.3 174.7L1557.8 162.6L1558.8 158.6L1559.8 156.3L1560.3 155.7L1560.8 155.6L1561.3 155.8L1562.3 157.4L1563.3 159.7L1564.8 164.5L1565.8 167.1L1566.3 167.9L1567.3 168.9L1568.3 169.2L1568.8 169.1L1569.3 168.7L1570.3 167.1L1571.3 164.3L1573.8 152.4L1575.3 146.8L1576.3 144.7L1576.8 144.1L1577.3 143.9L1577.8 144.1L1578.8 146.0L1579.8 150.1L1580.3 153.4L1581.8 167.6L1584.3 197.2L1585.8 212.4L1586.8 218.0L1587.3 219.4L1587.8 220.0L1588.3 219.6L1588.8 218.2L1589.8 212.2L1593.3 170.5L1595.3 151.7L1596.3 146.5L1597.3 143.7L1597.8 143.4L1598.3 143.6L1599.3 145.3L1599.8 146.8L1600.8 151.5L1602.3 163.3L1606.8 218.2L1609.3 242.1L1610.3 248.3L1610.8 250.2L1612.3 253.6L1613.3 254.7L1613.8 254.7L1614.3 254.1L1614.8 252.8L1615.8 248.4L1616.8 242.3L1617.8 233.5L1619.3 214.3L1621.8 171.8L1623.3 150.8L1624.8 137.3L1625.8 132.9L1626.3 132.0L1626.8 132.1L1627.3 133.2L1627.8 135.3L1628.8 143.1L1631.8 187.6L1632.8 198.1L1633.3 201.2L1633.8 202.5L1634.3 201.4L1634.8 198.2L1637.8 164.2L1639.3 151.7L1640.3 146.8L1641.3 143.8L1641.8 143.0L1642.3 142.8L1642.8 143.1L1643.8 144.9L1644.3 146.4L1645.3 152.0L1646.8 167.6L1649.8 210.4L1651.3 227.9L1652.8 238.0L1653.8 242.6L1654.8 246.0L1656.8 250.8L1660.3 256.5L1663.8 260.9L1668.3 265.6L1670.3 267.3L1671.8 268.3L1677.3 270.3L1678.8 271.1L1683.8 275.0L1687.3 277.2L1688.8 278.0L1690.8 278.4L1697.3 278.4L1703.8 276.9L1710.8 276.9L1712.8 276.7L1714.8 276.2L1716.8 275.4L1717.8 274.8L1719.3 273.0L1722.3 268.3L1725.3 262.9L1726.8 261.0L1728.3 259.7L1729.8 258.8L1731.3 258.4L1734.3 258.0L1735.3 257.6L1736.3 256.5L1736.8 255.6L1737.8 252.9L1738.3 250.8L1738.8 247.8L1739.8 238.6L1741.3 220.7L1744.8 173.1L1746.8 152.6L1747.3 149.1L1748.3 144.6L1749.3 142.3L1749.8 142.1L1750.3 142.7L1751.3 145.5L1752.3 151.6L1752.8 156.8L1754.3 178.1L1757.3 229.0L1758.8 247.8L1759.8 255.8L1760.8 260.7L1761.8 262.7L1763.3 264.1L1764.3 264.4L1765.8 264.2L1769.3 263.4L1772.3 262.2L1773.8 262.2L1774.8 262.9L1776.3 264.6L1778.3 267.4L1780.8 271.6L1781.8 272.8L1785.3 275.2L1786.8 275.9L1788.3 276.1L1796.3 275.3L1805.3 275.6L1808.3 275.5L1811.8 275.2L1815.8 274.5L1817.8 273.8L1819.8 272.7L1824.3 270.1L1829.8 266.5L1831.8 265.8L1834.8 265.2L1836.8 265.3L1838.3 265.7L1842.8 267.8L1847.3 270.3L1848.8 270.7L1852.8 271.0L1856.3 270.9L1862.3 269.4L1875.3 267.5L1878.3 266.6L1879.3 265.8L1880.3 264.7L1883.8 259.5L1890.3 245.8L1892.3 242.3L1894.3 239.5L1895.8 238.0L1898.3 236.3L1900.3 235.4L1900.3 257.5L1898.8 259.1L1896.3 262.4L1890.8 271.1L1888.8 273.9L1887.3 275.4L1885.3 276.5L1883.8 276.9L1882.8 276.9L1878.3 276.1L1870.8 276.0L1868.3 276.5L1862.3 278.1L1858.8 278.7L1855.8 278.9L1853.3 278.8L1848.8 278.0L1847.3 277.9L1840.8 279.8L1834.8 282.3L1827.3 283.8L1825.3 283.9L1823.3 283.7L1807.8 279.7L1800.8 278.7L1796.3 278.5L1789.8 279.4L1787.3 279.5L1785.8 279.1L1782.8 278.0L1780.8 276.6L1779.8 276.1L1776.8 275.8L1775.8 276.4L1773.8 278.8L1771.8 280.4L1768.8 283.8L1766.3 285.3L1764.8 285.6L1763.8 284.9L1762.3 282.8L1761.3 280.9L1759.8 277.0L1758.3 274.9L1757.8 274.8L1757.3 275.7L1756.8 277.5L1755.8 282.7L1752.8 308.6L1751.8 315.1L1751.3 316.9L1750.3 319.0L1748.3 321.4L1746.3 323.5L1745.8 323.7L1745.3 323.4L1744.8 322.4L1743.3 316.5L1739.3 292.0L1738.3 287.0L1737.3 284.8L1736.3 283.8L1735.8 283.6L1734.8 283.6L1732.3 284.2L1727.8 285.9L1726.3 286.2L1724.8 286.0L1721.8 284.7L1719.3 284.1L1713.8 283.5L1711.3 283.7L1705.3 285.2L1702.8 285.4L1694.8 284.4L1686.3 280.7L1681.3 279.0L1678.8 278.5L1675.3 278.4L1671.3 278.7L1666.3 279.8L1664.3 280.1L1652.8 280.0L1651.8 280.1L1650.3 280.9L1649.8 281.6L1649.3 283.0L1647.8 290.5L1645.8 304.2L1644.8 309.7L1643.8 312.6L1642.8 313.9L1642.3 314.1L1641.8 314.0L1639.8 312.4L1637.8 309.5L1637.3 307.9L1635.8 299.4L1633.8 281.2L1633.3 278.7L1632.8 277.9L1632.3 278.3L1631.8 279.7L1631.3 282.4L1630.3 291.5L1628.8 309.3L1627.8 317.6L1626.8 322.1L1625.8 324.1L1624.8 324.8L1624.3 324.7L1622.8 322.3L1620.3 315.5L1616.8 293.2L1615.3 286.7L1614.3 283.9L1610.8 276.9L1610.3 276.2L1609.8 276.1L1607.3 278.6L1606.8 279.5L1606.3 281.1L1604.3 291.2L1601.8 308.9L1600.8 314.1L1599.8 318.0L1598.8 320.6L1597.8 322.0L1596.3 322.2L1595.8 322.0L1595.3 321.4L1593.8 318.0L1592.8 313.0L1591.8 304.3L1589.8 283.1L1588.8 275.1L1587.8 270.3L1586.8 268.0L1586.3 267.6L1585.8 268.2L1585.3 269.8L1583.3 278.8L1579.8 304.0L1578.3 312.0L1577.3 315.6L1576.3 318.1L1575.3 320.1L1574.8 320.7L1574.3 321.0L1573.3 320.8L1572.3 320.3L1570.3 317.9L1569.3 317.2L1568.8 317.1L1567.3 317.4L1565.8 316.4L1565.3 316.3L1564.8 316.6L1562.8 319.7L1561.8 320.6L1558.3 322.2L1556.8 323.7L1556.3 323.5L1555.8 322.6L1555.3 320.8L1554.3 315.2L1552.3 297.3L1550.8 288.3L1550.3 286.3L1549.3 284.3L1548.3 283.5L1547.3 283.2L1546.3 283.3L1545.3 283.7L1540.3 286.3L1538.3 286.9L1536.8 286.7L1535.3 286.1L1530.3 282.9L1528.3 282.0L1525.8 281.2L1524.8 281.4L1522.8 282.9L1520.8 283.3L1517.8 284.6L1513.3 285.9L1509.3 286.4L1505.3 285.3L1502.3 284.9L1497.8 283.5L1496.3 283.2L1490.8 283.4L1485.3 283.4L1482.3 283.6L1480.8 283.9L1479.3 284.6L1475.8 286.7L1473.3 287.7L1471.8 288.0L1470.3 287.7L1467.3 286.7L1463.8 284.3L1461.8 283.7L1455.3 283.5L1447.8 283.8L1438.8 283.2L1434.8 282.8L1431.3 281.8L1427.8 281.6L1425.3 281.2L1423.8 281.4L1419.8 282.8L1416.3 284.8L1415.3 285.1L1408.8 285.8L1406.8 285.6L1403.3 284.7L1399.3 282.5L1397.3 282.0L1386.8 282.4L1380.8 282.2L1375.3 282.6L1372.8 282.4L1371.3 282.7L1368.8 283.5L1365.3 283.9L1359.8 283.1L1355.8 281.7L1352.3 281.9L1348.3 280.8L1346.8 281.2L1345.8 281.3L1342.8 280.4L1341.3 279.7L1339.8 280.2L1339.3 280.6L1338.8 281.5L1338.3 283.3L1336.8 290.9L1335.3 301.8L1333.8 310.1L1333.3 312.4L1332.8 313.9L1332.3 314.7L1330.8 315.4L1329.8 315.4L1328.8 314.7L1327.8 313.3L1326.3 310.2L1325.3 307.4L1321.3 292.8L1320.3 289.7L1319.3 287.8L1317.8 286.0L1316.8 285.5L1315.3 285.7L1313.3 286.7L1312.3 287.5L1311.3 289.2L1310.3 291.5L1308.3 297.7L1303.8 318.0L1303.3 319.6L1302.3 321.8L1301.3 323.2L1300.8 323.6L1300.3 323.5L1299.3 322.4L1297.3 318.2L1291.3 296.9L1288.3 287.9L1287.3 285.9L1285.3 283.6L1283.8 282.4L1282.3 281.9L1273.8 281.9L1267.3 281.6L1266.3 281.7L1264.8 282.4L1262.8 284.0L1261.8 286.1L1260.8 289.6L1254.3 317.8L1252.8 321.3L1251.8 322.7L1251.3 322.8L1250.8 322.4L1250.3 321.5L1248.8 317.8L1243.8 297.5L1241.3 289.0L1240.3 286.6L1239.3 284.9L1237.8 282.9L1236.8 282.1L1234.8 281.7L1229.3 281.2L1215.3 279.7L1213.3 279.8L1211.3 280.3L1209.3 281.0L1208.3 281.6L1206.3 284.0L1204.8 287.0L1202.3 295.5L1199.8 305.6L1197.8 311.9L1196.8 313.9L1196.3 314.4L1195.3 314.9L1194.3 315.1L1193.3 314.7L1192.8 314.2L1190.8 310.9L1189.3 307.1L1185.3 294.2L1184.3 291.5L1181.8 286.2L1180.8 284.7L1179.3 282.9L1177.8 281.5L1175.3 279.6L1173.3 278.4L1171.8 277.8L1166.8 276.9L1158.8 276.2L1155.8 276.1L1154.3 276.3L1152.3 277.0L1149.3 278.6L1147.3 280.1L1140.3 286.6L1138.8 288.4L1137.8 290.3L1133.8 300.9L1132.8 303.0L1131.3 305.1L1130.3 305.9L1129.8 306.1L1128.8 306.1L1127.3 305.5L1126.3 304.7L1125.3 303.2L1123.3 299.1L1120.3 290.9L1118.8 287.8L1117.3 285.3L1115.8 283.7L1114.3 282.6L1109.3 279.8L1106.8 278.7L1102.8 277.6L1100.8 277.3L1098.8 277.2L1096.3 278.0L1087.8 281.6L1081.8 283.1L1080.8 283.7L1079.8 284.9L1078.3 287.6L1077.3 291.0L1074.3 303.8L1073.3 307.3L1071.8 310.8L1071.3 311.5L1070.8 311.9L1070.3 311.9L1068.8 311.1L1067.8 310.1L1066.8 308.1L1065.3 303.6L1063.3 294.7L1060.8 278.2L1059.8 273.5L1059.3 272.1L1058.8 271.8L1058.3 272.4L1057.8 273.5L1057.3 275.2L1054.8 287.7L1053.8 290.4L1053.3 290.6L1052.8 290.1L1051.8 288.0L1049.3 277.4L1047.3 271.1L1045.3 266.4L1044.3 264.5L1043.3 263.0Z" fill="#f23f5c" fill-opacity="0.175" clip-path="url(#clipB1)"/>
<path d="M1043.3 205.3L1045.3 203.4L1046.3 202.9L1047.3 202.7L1047.8 202.8L1048.3 203.3L1048.8 204.4L1049.3 205.9L1050.8 213.1L1051.3 214.6L1052.3 216.6L1052.8 217.2L1054.3 218.1L1054.8 218.9L1055.3 220.7L1057.8 234.3L1058.3 236.5L1059.3 239.9L1059.8 241.2L1060.3 241.9L1060.8 242.0L1061.3 241.7L1061.8 241.1L1063.3 238.6L1064.8 235.1L1065.8 233.8L1066.8 233.0L1067.8 232.5L1068.3 232.4L1069.3 232.5L1071.3 233.3L1072.3 234.1L1073.3 235.4L1074.3 237.2L1075.3 239.6L1075.8 241.2L1077.3 247.1L1080.8 263.0L1081.8 266.2L1082.8 268.5L1084.3 270.9L1085.3 271.9L1086.8 273.0L1088.3 273.7L1091.8 274.0L1092.8 274.0L1093.8 273.8L1098.8 271.4L1099.8 271.1L1101.3 270.9L1106.3 270.6L1108.8 269.8L1110.8 268.9L1112.3 268.0L1113.8 266.7L1115.3 265.1L1116.8 263.2L1117.8 261.5L1118.8 259.6L1119.8 257.2L1121.8 250.5L1124.8 238.8L1126.3 234.2L1127.3 232.4L1128.3 231.4L1129.3 230.7L1130.3 230.5L1131.3 230.7L1132.8 231.6L1133.3 232.0L1133.8 232.7L1134.3 233.7L1135.8 237.8L1138.3 247.0L1139.8 251.6L1140.8 253.5L1142.3 255.4L1143.3 256.2L1144.3 256.7L1147.8 257.7L1150.8 258.8L1152.8 259.6L1154.3 260.5L1156.3 262.0L1163.8 268.6L1168.8 272.8L1170.8 274.2L1172.8 275.1L1174.3 275.7L1175.3 276.0L1176.3 276.1L1177.3 275.8L1178.3 275.3L1179.8 274.0L1180.8 272.8L1181.3 271.9L1183.3 267.3L1184.8 262.6L1186.3 256.7L1188.8 244.4L1190.3 238.8L1190.8 237.5L1191.3 236.7L1192.3 235.7L1192.8 235.3L1193.3 235.2L1193.8 235.3L1194.3 235.6L1195.8 237.2L1196.8 238.9L1197.8 241.2L1199.3 245.5L1200.3 249.1L1201.8 255.1L1203.8 264.2L1204.3 265.8L1204.8 266.9L1205.8 268.5L1206.3 268.9L1206.8 269.0L1207.3 269.0L1208.3 268.6L1213.3 266.2L1214.3 266.0L1215.8 266.2L1217.3 266.9L1218.8 267.8L1219.8 268.7L1222.8 271.9L1226.8 275.1L1228.3 276.0L1230.8 277.0L1232.3 277.4L1233.8 277.6L1234.8 277.5L1235.8 277.0L1237.3 275.9L1238.3 274.8L1239.8 272.1L1241.3 268.3L1242.8 263.4L1244.3 257.5L1248.3 237.1L1249.3 232.7L1249.8 231.2L1250.8 229.2L1251.3 228.7L1251.8 228.5L1252.3 228.7L1253.3 229.8L1254.3 231.5L1254.8 233.0L1255.8 237.1L1257.8 246.3L1261.8 267.8L1262.8 271.8L1264.3 276.2L1264.8 277.1L1265.3 277.6L1266.8 278.4L1273.8 280.4L1275.3 280.7L1276.3 280.8L1278.3 280.7L1280.8 280.3L1282.8 279.9L1283.8 279.5L1284.8 278.9L1286.3 277.7L1287.3 276.7L1288.3 275.2L1289.3 273.3L1290.3 271.0L1291.8 266.5L1294.3 255.9L1296.3 246.4L1297.8 241.0L1298.8 238.4L1299.3 237.5L1299.8 236.9L1300.8 236.0L1301.8 235.5L1302.3 235.6L1303.3 236.4L1304.3 237.9L1304.8 239.0L1306.8 246.2L1309.3 257.1L1310.8 262.4L1311.8 265.4L1312.8 267.3L1314.3 268.7L1315.3 269.2L1316.3 269.3L1316.8 269.2L1317.8 268.7L1319.3 267.4L1320.3 266.1L1321.3 263.6L1322.8 258.9L1323.8 256.2L1324.3 254.5L1326.3 244.3L1327.8 239.5L1328.3 238.5L1329.3 237.2L1330.3 236.5L1330.8 236.3L1331.3 236.3L1331.8 236.5L1332.8 237.2L1333.8 238.5L1334.3 239.7L1335.3 242.7L1336.8 248.7L1339.8 263.5L1340.8 267.2L1341.8 270.1L1342.8 272.4L1344.3 274.8L1345.8 276.6L1346.8 277.3L1347.3 277.6L1350.3 278.3L1352.8 278.4L1361.3 276.7L1362.8 276.5L1364.3 276.4L1365.8 276.8L1368.8 278.0L1372.3 279.1L1374.3 279.6L1375.8 279.7L1384.3 279.7L1387.8 279.4L1393.8 278.6L1401.3 277.0L1408.3 275.8L1413.8 275.4L1418.3 275.3L1420.8 275.7L1423.8 276.6L1428.3 279.0L1433.3 281.2L1435.8 281.7L1439.8 282.0L1441.8 281.9L1443.8 281.4L1463.3 275.3L1467.3 274.5L1470.3 274.2L1471.8 274.3L1473.8 274.7L1478.8 276.1L1484.3 277.9L1492.3 280.0L1496.8 280.7L1500.3 281.0L1502.8 281.1L1504.8 280.8L1508.3 279.7L1509.3 279.2L1510.3 278.4L1513.3 275.0L1516.8 269.5L1518.8 267.0L1520.3 265.5L1521.3 265.2L1523.8 265.2L1524.3 265.3L1524.8 265.6L1526.8 267.9L1529.8 271.0L1530.8 271.8L1532.3 272.8L1533.8 273.5L1535.3 274.0L1536.8 274.2L1537.8 273.9L1544.8 270.4L1548.3 268.4L1550.3 267.0L1551.3 265.7L1552.8 262.7L1553.8 259.8L1557.8 242.6L1558.3 241.2L1558.8 240.2L1559.8 238.9L1560.3 238.5L1560.8 238.3L1561.8 238.5L1562.8 239.1L1564.3 240.1L1566.3 242.3L1567.3 243.1L1568.3 243.2L1569.3 243.0L1570.3 242.5L1571.3 241.7L1571.8 241.0L1575.8 232.4L1576.8 230.5L1578.8 227.8L1579.8 227.0L1580.3 227.0L1580.8 227.2L1581.3 227.8L1582.8 230.6L1585.3 238.9L1587.3 244.2L1588.8 246.6L1589.8 247.7L1590.3 247.9L1590.8 247.8L1591.3 247.3L1592.8 244.6L1593.3 243.3L1594.8 237.9L1595.8 235.4L1596.8 233.5L1597.3 233.0L1597.8 232.7L1598.8 232.4L1599.8 232.4L1600.3 232.5L1600.8 232.8L1601.8 233.9L1602.8 235.3L1603.3 236.3L1604.3 239.2L1606.3 246.7L1608.8 257.6L1610.3 262.2L1611.3 264.7L1612.8 267.6L1613.3 268.4L1613.8 268.9L1614.3 269.0L1614.8 268.9L1615.8 268.5L1616.8 267.8L1617.3 267.2L1617.8 266.4L1618.8 263.6L1619.8 259.5L1621.8 245.8L1623.3 237.0L1623.8 234.6L1624.8 231.1L1625.8 228.5L1626.3 227.6L1627.3 226.7L1628.3 226.2L1628.8 226.2L1629.3 226.5L1629.8 227.3L1630.8 229.9L1631.3 231.6L1632.8 238.0L1634.3 243.4L1634.8 244.4L1635.3 244.5L1635.8 243.7L1636.3 242.2L1638.8 233.1L1639.8 230.7L1640.8 229.2L1641.3 228.7L1641.8 228.5L1642.8 228.5L1644.3 228.9L1644.8 229.1L1645.3 229.6L1645.8 230.4L1646.8 232.4L1647.3 233.9L1648.8 240.7L1651.3 254.1L1652.3 257.5L1653.3 260.2L1654.3 262.3L1655.3 263.7L1656.3 264.9L1658.3 266.7L1661.3 269.0L1663.8 270.5L1665.8 271.5L1668.3 272.4L1671.3 273.3L1678.3 274.6L1679.8 275.2L1683.8 277.4L1689.3 280.1L1693.3 281.1L1696.3 281.5L1699.8 281.5L1705.3 281.0L1715.3 279.8L1717.3 279.5L1718.3 279.1L1719.3 278.5L1725.8 274.2L1728.8 272.4L1730.8 271.6L1734.3 270.9L1735.8 270.4L1737.3 269.6L1738.8 268.4L1739.3 267.8L1739.8 266.9L1740.3 265.6L1742.3 259.0L1743.8 252.6L1747.3 235.7L1747.8 234.2L1748.8 232.0L1749.3 231.3L1749.8 230.9L1750.3 230.8L1750.8 231.0L1751.8 231.5L1752.3 232.0L1752.8 232.7L1753.3 233.7L1754.3 236.7L1754.8 238.6L1755.8 243.5L1758.8 261.7L1759.8 266.4L1760.8 270.1L1761.3 271.4L1761.8 272.3L1762.8 273.7L1763.8 274.6L1764.3 274.9L1765.3 275.0L1766.3 274.7L1768.3 273.9L1769.3 273.4L1772.3 271.1L1774.3 270.4L1775.8 270.2L1776.3 270.3L1777.3 270.9L1779.3 272.6L1781.8 275.1L1782.8 275.8L1785.8 277.3L1787.8 277.8L1789.8 277.7L1794.8 277.0L1797.3 276.9L1800.8 277.1L1812.8 278.0L1817.3 278.1L1820.3 277.7L1823.8 277.1L1825.3 276.7L1830.3 274.8L1834.3 273.9L1836.8 273.4L1838.8 273.3L1841.3 273.4L1852.3 274.9L1855.3 275.0L1858.3 274.6L1869.3 272.3L1876.8 271.6L1878.8 271.2L1880.3 270.6L1882.3 269.4L1883.8 268.2L1884.8 267.1L1887.8 263.1L1891.8 256.3L1894.8 251.8L1896.3 250.0L1897.8 248.5L1899.3 247.1L1900.3 246.5" fill="none" stroke="#ee4050" stroke-width="1.5" stroke-linejoin="round" clip-path="url(#clipB1)"/>
<path d="M1043.3 341.9v-9.2M1043.3 114.0v9.2M1129.0 341.9v-9.2M1129.0 114.0v9.2M1215.0 341.9v-9.2M1215.0 114.0v9.2M1300.0 341.9v-9.2M1300.0 114.0v9.2M1386.0 341.9v-9.2M1386.0 114.0v9.2M1472.0 341.9v-9.2M1472.0 114.0v9.2M1558.0 341.9v-9.2M1558.0 114.0v9.2M1643.0 341.9v-9.2M1643.0 114.0v9.2M1729.0 341.9v-9.2M1729.0 114.0v9.2M1815.0 341.9v-9.2M1815.0 114.0v9.2M1900.3 341.9v-9.2M1900.3 114.0v9.2M1043.3 341.9h9.2M1900.3 341.9h-9.2M1043.3 285.0h9.2M1900.3 285.0h-9.2M1043.3 228.0h9.2M1900.3 228.0h-9.2M1043.3 171.0h9.2M1900.3 171.0h-9.2M1043.3 114.0h9.2M1900.3 114.0h-9.2" stroke="#303030" stroke-width="1.15" fill="none"/>
<rect x="1043.3" y="114.0" width="857.0" height="227.9" fill="none" stroke="#4c4c4c" stroke-width="1.25"/>
<g font-family='"Liberation Sans", Arial, Helvetica, sans-serif' font-size="14.8" fill="#1c1c1c" stroke="#1c1c1c" stroke-width="0.3"><text x="1043.3" y="362.5" text-anchor="middle">0</text><text x="1129.0" y="362.5" text-anchor="middle">100</text><text x="1214.7" y="362.5" text-anchor="middle">200</text><text x="1300.4" y="362.5" text-anchor="middle">300</text><text x="1386.1" y="362.5" text-anchor="middle">400</text><text x="1471.8" y="362.5" text-anchor="middle">500</text><text x="1557.5" y="362.5" text-anchor="middle">600</text><text x="1643.2" y="362.5" text-anchor="middle">700</text><text x="1728.9" y="362.5" text-anchor="middle">800</text><text x="1814.6" y="362.5" text-anchor="middle">900</text><text x="1900.3" y="362.5" text-anchor="middle">1000</text><text x="1036.3" y="347.2" text-anchor="end">-0.5</text><text x="1036.3" y="290.2" text-anchor="end">0</text><text x="1036.3" y="233.2" text-anchor="end">0.5</text><text x="1036.3" y="176.3" text-anchor="end">1</text><text x="1036.3" y="119.3" text-anchor="end">1.5</text></g>
<text transform="rotate(-90)" y="1002.7" font-family='"Liberation Sans", Arial, Helvetica, sans-serif' font-size="17" fill="#1c1c1c" stroke="#1c1c1c" stroke-width="0.3"><tspan x="-304.30" textLength="32.60" lengthAdjust="spacingAndGlyphs">ASD</tspan> <tspan x="-265.70" textLength="22.00" lengthAdjust="spacingAndGlyphs">CV</tspan> <tspan x="-238.50" textLength="39.30" lengthAdjust="spacingAndGlyphs">Value</tspan> <tspan x="-188.10" textLength="26.05" lengthAdjust="spacingAndGlyphs">(%)</tspan></text>
<text x="1471.8" y="109.0" text-anchor="middle" font-family='"Liberation Sans", Arial, Helvetica, sans-serif' font-size="16.2" fill="#1c1c1c" stroke="#1c1c1c" stroke-width="0.3" xml:space="preserve">(F3)  CV Plot</text>
</g>
<g id="plotB2">
<clipPath id="clipB2"><rect x="1043.3" y="430.6" width="857.0" height="227.3"/></clipPath>
<path d="M1129.5 430.6V657.9M1214.5 430.6V657.9M1300.5 430.6V657.9M1386.5 430.6V657.9M1471.5 430.6V657.9M1557.5 430.6V657.9M1643.5 430.6V657.9M1728.5 430.6V657.9M1814.5 430.6V657.9M1043.3 612.5H1900.3M1043.3 566.5H1900.3M1043.3 521.5H1900.3M1043.3 476.5H1900.3" stroke="#e4e4e4" stroke-width="1" fill="none"/>
<path d="M1043.3 580.7L1045.3 581.8L1048.3 583.9L1054.3 589.1L1055.3 589.7L1055.8 589.7L1056.3 589.1L1056.8 587.8L1057.8 583.4L1058.8 577.6L1060.3 564.9L1061.8 547.1L1065.3 496.8L1066.8 482.1L1067.8 476.0L1068.8 472.7L1069.3 471.6L1069.8 471.1L1070.3 471.3L1071.3 473.4L1072.8 479.4L1075.3 494.9L1076.8 502.5L1077.3 504.1L1078.3 506.1L1079.3 507.4L1079.8 507.4L1080.3 506.8L1080.8 505.5L1082.3 498.7L1085.3 473.2L1086.8 462.9L1087.8 458.2L1088.3 456.6L1088.8 455.7L1089.8 455.0L1090.3 455.2L1090.8 455.9L1091.3 457.5L1092.3 463.0L1092.8 467.3L1094.3 487.1L1096.8 527.7L1097.8 540.6L1098.8 550.2L1099.8 557.1L1100.8 562.4L1102.3 568.0L1103.8 572.2L1106.3 577.5L1108.8 581.6L1112.8 586.9L1115.3 589.2L1117.8 590.7L1120.3 591.7L1122.3 592.1L1127.3 592.6L1129.3 593.2L1134.8 596.8L1139.3 600.3L1142.8 602.4L1146.3 604.0L1151.8 605.4L1154.3 605.6L1155.8 605.3L1157.8 604.2L1159.3 602.9L1160.3 601.5L1161.3 599.6L1162.3 597.1L1163.3 593.8L1164.8 586.1L1166.8 572.6L1170.8 537.2L1172.3 526.3L1173.3 521.2L1174.3 517.7L1175.3 515.6L1175.8 515.0L1176.8 514.5L1177.8 514.3L1178.3 514.4L1179.3 515.1L1180.3 517.1L1180.8 519.0L1181.8 525.7L1184.8 553.2L1186.3 565.2L1187.8 573.5L1188.8 577.4L1189.8 580.3L1191.3 582.9L1193.3 585.1L1195.3 586.2L1198.8 587.1L1201.3 587.3L1202.8 586.8L1204.8 585.5L1206.8 583.3L1208.3 580.5L1209.8 576.5L1210.8 572.5L1211.8 567.0L1212.8 560.0L1213.8 550.8L1217.3 511.8L1217.8 508.2L1218.8 503.8L1219.3 502.7L1219.8 502.1L1220.3 502.0L1220.8 502.4L1221.3 503.2L1221.8 504.7L1222.8 510.1L1224.3 523.4L1227.8 561.7L1228.8 570.8L1229.8 577.7L1230.3 580.1L1231.3 582.8L1231.8 583.3L1232.3 583.1L1232.8 582.0L1233.8 576.6L1234.8 566.4L1237.8 529.6L1238.8 519.9L1239.8 512.3L1240.8 507.4L1241.8 504.2L1242.3 503.4L1242.8 503.1L1243.8 503.1L1244.3 503.4L1244.8 504.1L1245.3 505.6L1246.8 515.4L1251.3 566.3L1252.8 577.1L1254.3 584.3L1255.8 588.9L1257.3 592.4L1259.3 595.9L1261.8 599.4L1263.8 601.5L1265.3 602.5L1268.8 604.0L1271.3 604.6L1273.8 604.8L1282.8 604.5L1290.8 604.8L1299.8 604.8L1301.8 604.6L1308.8 603.3L1318.3 602.9L1323.3 602.5L1325.8 602.5L1334.3 603.4L1343.3 605.8L1351.8 607.3L1361.8 608.4L1368.8 608.7L1373.3 608.6L1380.3 607.9L1389.8 606.3L1394.8 605.6L1398.8 605.2L1401.8 605.2L1405.8 605.5L1412.3 606.5L1422.3 609.1L1427.8 610.3L1430.8 610.9L1433.3 611.1L1436.8 610.5L1441.8 609.0L1450.3 606.7L1455.8 605.9L1460.8 605.6L1462.8 605.7L1464.8 606.0L1479.3 609.5L1481.8 609.9L1483.8 610.0L1495.8 608.9L1511.3 609.3L1534.3 609.5L1536.8 609.2L1543.8 608.0L1551.8 607.3L1555.3 607.5L1562.8 608.5L1567.3 608.9L1572.8 609.3L1577.3 609.3L1601.3 607.3L1615.3 607.1L1625.8 605.6L1638.3 605.1L1641.8 605.4L1647.8 606.7L1659.3 608.8L1662.8 609.2L1667.8 609.1L1678.3 608.5L1688.3 606.5L1697.8 605.2L1707.8 604.3L1713.3 604.0L1721.8 604.4L1728.3 605.0L1738.3 606.3L1746.3 607.0L1751.3 607.2L1753.8 606.8L1759.8 604.8L1763.8 603.8L1767.3 603.2L1770.3 602.9L1773.8 603.2L1778.3 604.1L1779.8 604.7L1783.3 606.5L1785.3 607.1L1793.3 607.2L1795.8 606.7L1800.3 604.8L1803.3 604.3L1810.3 604.1L1816.3 604.9L1818.8 605.1L1822.8 604.9L1826.8 604.3L1829.3 603.6L1831.8 602.1L1835.3 599.2L1837.8 596.5L1839.8 593.6L1841.3 590.8L1842.8 587.0L1844.3 581.9L1845.3 577.5L1846.3 571.7L1847.8 560.5L1849.3 545.0L1852.3 509.7L1854.3 492.1L1855.8 482.3L1856.8 477.1L1857.8 473.6L1858.8 471.6L1859.3 471.1L1859.8 471.2L1860.3 472.0L1860.8 473.4L1861.8 477.9L1862.3 481.2L1863.8 494.9L1868.8 547.6L1870.3 558.7L1871.3 563.6L1872.3 566.9L1872.8 568.0L1873.3 568.6L1873.8 568.8L1874.3 568.6L1875.3 567.6L1875.8 566.7L1876.3 565.0L1877.3 559.5L1878.3 551.4L1881.3 518.2L1882.3 510.5L1882.8 507.8L1883.8 504.5L1884.8 503.4L1885.3 503.2L1885.8 503.3L1886.8 504.8L1887.3 506.3L1888.3 511.9L1889.8 525.4L1892.3 551.3L1893.8 563.2L1894.8 569.5L1895.8 574.4L1897.3 580.1L1898.8 583.6L1899.8 584.8L1900.3 585.2L1900.3 612.6L1898.8 612.9L1897.3 613.6L1896.3 614.5L1894.8 616.8L1893.3 620.8L1889.8 633.9L1888.8 637.0L1887.3 639.8L1886.3 640.8L1885.8 641.0L1884.3 640.7L1883.3 640.2L1882.3 638.9L1881.3 636.7L1879.3 631.1L1874.8 613.8L1873.3 609.9L1872.3 608.3L1871.8 608.1L1870.8 608.4L1869.3 609.7L1866.3 615.0L1865.3 616.4L1864.3 617.4L1863.3 617.8L1861.3 618.2L1851.8 619.2L1850.8 619.0L1849.8 618.4L1847.8 616.8L1845.3 614.2L1842.3 612.5L1836.8 610.8L1832.8 610.3L1830.3 610.9L1827.8 611.2L1823.3 610.7L1819.3 610.4L1807.8 610.6L1801.3 611.1L1796.3 610.7L1794.8 610.9L1792.3 611.6L1790.8 611.8L1784.3 611.4L1778.8 613.0L1773.3 613.1L1766.3 613.5L1760.3 613.2L1752.8 611.6L1734.8 610.6L1712.8 610.3L1694.8 611.5L1688.8 611.7L1677.3 610.9L1661.3 610.7L1650.3 610.3L1644.3 609.8L1613.8 609.3L1602.3 609.4L1590.3 610.1L1576.3 610.6L1556.3 610.0L1536.8 610.7L1530.3 610.7L1495.8 609.8L1492.8 610.0L1484.3 611.2L1472.3 611.1L1462.8 611.5L1442.8 611.8L1433.3 612.3L1418.8 611.4L1405.3 610.8L1390.3 610.7L1364.8 610.1L1353.3 609.2L1337.8 607.6L1327.3 606.0L1322.8 606.7L1306.8 607.5L1293.3 608.7L1267.8 609.4L1264.3 610.0L1258.8 611.8L1255.8 613.4L1254.8 614.5L1253.8 616.0L1252.3 619.0L1251.3 621.5L1247.8 633.1L1246.3 637.4L1245.3 639.1L1244.3 640.3L1243.3 640.9L1242.8 641.0L1242.3 640.8L1241.3 640.1L1239.8 638.0L1238.8 635.4L1234.3 620.2L1232.8 617.3L1231.8 616.2L1230.8 616.3L1229.8 617.1L1228.8 618.4L1228.3 619.5L1226.3 625.9L1224.3 633.2L1223.3 635.7L1222.3 637.6L1221.3 638.6L1220.8 638.6L1220.3 638.4L1219.3 637.6L1218.3 636.3L1217.8 635.1L1213.3 617.0L1211.8 612.4L1210.3 608.7L1207.8 604.0L1205.8 601.2L1203.8 599.7L1201.8 599.0L1200.8 598.9L1199.8 599.3L1198.8 599.9L1196.8 601.7L1194.3 604.4L1191.8 608.2L1189.8 612.1L1187.8 617.0L1183.8 629.8L1182.3 634.1L1181.3 636.0L1179.8 638.1L1178.8 638.9L1178.3 639.0L1177.3 638.7L1176.3 638.0L1174.8 636.6L1173.8 635.2L1171.3 629.0L1167.8 618.6L1165.8 613.9L1164.8 612.6L1163.3 611.3L1161.8 610.4L1159.8 609.6L1155.8 608.7L1149.8 608.0L1143.8 607.5L1133.8 607.2L1128.8 606.6L1122.8 605.6L1110.8 603.2L1108.3 602.6L1103.8 601.1L1099.3 600.5L1098.3 600.5L1097.3 600.7L1093.3 604.0L1092.3 604.5L1091.8 604.6L1090.8 604.2L1088.8 601.9L1086.3 597.3L1084.3 592.5L1083.8 591.7L1083.3 591.2L1082.8 591.2L1082.3 591.4L1081.8 591.9L1081.3 592.8L1078.3 605.0L1077.3 607.7L1076.8 608.1L1075.8 608.1L1071.8 607.0L1070.3 606.7L1068.8 606.8L1065.8 607.4L1064.8 607.3L1063.8 606.3L1061.8 603.0L1057.8 594.9L1056.8 593.6L1055.8 593.7L1052.8 595.7L1049.3 597.4L1046.3 598.3L1043.3 598.9Z" fill="#f23f5c" fill-opacity="0.175" clip-path="url(#clipB2)"/>
<path d="M1043.3 589.7L1045.8 590.0L1048.3 590.5L1051.8 591.6L1054.3 592.2L1055.3 592.3L1055.8 592.2L1056.3 591.7L1057.3 589.8L1058.3 587.4L1059.3 584.4L1060.3 580.6L1061.3 576.3L1062.8 568.8L1065.3 554.1L1066.3 548.9L1067.8 542.6L1068.8 540.4L1069.8 539.0L1070.3 538.6L1070.8 538.5L1071.3 538.7L1071.8 539.1L1072.8 540.4L1073.3 541.3L1073.8 542.7L1076.3 551.7L1077.3 554.7L1077.8 555.6L1078.3 556.1L1078.8 556.5L1079.3 556.6L1079.8 556.3L1080.3 555.6L1081.8 552.0L1082.8 548.7L1085.8 536.4L1087.3 531.9L1088.3 529.9L1088.8 529.5L1089.3 529.3L1090.3 529.1L1090.8 529.2L1091.3 529.7L1091.8 530.5L1092.8 532.9L1093.3 534.8L1094.8 543.1L1098.3 565.5L1099.3 570.6L1100.3 574.3L1101.8 578.5L1103.8 582.6L1105.8 585.7L1108.8 589.6L1110.8 591.8L1113.3 593.8L1115.8 595.4L1118.3 596.5L1123.3 598.2L1130.3 600.0L1140.8 604.1L1145.3 605.7L1149.8 606.7L1153.3 607.3L1154.8 607.3L1156.3 607.1L1159.8 606.1L1160.8 605.5L1162.3 604.5L1163.8 603.1L1164.8 601.9L1166.3 599.5L1167.3 597.4L1169.8 589.6L1172.3 583.0L1173.3 581.0L1174.8 578.5L1175.8 577.4L1176.3 577.1L1178.3 576.5L1179.3 576.4L1179.8 576.5L1180.8 577.3L1181.8 578.5L1182.8 580.9L1185.8 590.2L1186.8 592.2L1188.3 594.2L1189.3 594.9L1190.8 595.2L1193.3 595.4L1194.8 595.3L1199.3 594.0L1203.8 592.9L1206.3 592.2L1208.8 591.1L1210.8 589.7L1211.3 589.2L1211.8 588.4L1212.3 587.2L1215.8 575.8L1217.3 572.1L1217.8 571.2L1218.3 570.6L1219.3 570.0L1220.3 569.7L1220.8 569.7L1221.3 569.9L1221.8 570.3L1222.8 571.6L1223.8 573.5L1224.8 576.3L1225.8 579.7L1229.8 596.1L1230.8 598.5L1231.8 600.0L1232.3 600.3L1232.8 600.2L1233.3 599.8L1234.3 598.0L1234.8 596.8L1235.8 592.9L1238.3 580.8L1239.3 577.2L1240.3 574.8L1241.3 573.1L1241.8 572.5L1242.8 572.2L1244.8 572.0L1245.3 572.2L1245.8 572.8L1246.3 573.7L1247.8 577.5L1251.3 590.9L1252.3 593.9L1253.3 596.2L1254.3 598.1L1255.3 599.6L1256.3 600.7L1257.8 602.2L1259.3 603.3L1261.8 604.6L1264.3 605.6L1266.3 606.1L1269.8 606.8L1276.8 607.4L1283.3 607.6L1294.3 607.3L1300.8 606.7L1309.3 605.2L1322.3 604.1L1324.8 604.0L1327.8 604.3L1333.8 605.2L1342.8 606.9L1349.3 607.9L1355.3 608.6L1363.3 609.3L1368.3 609.5L1374.8 609.4L1381.8 609.1L1396.8 608.1L1402.3 608.0L1406.3 608.2L1412.8 608.9L1428.8 611.3L1433.3 611.7L1436.3 611.4L1442.3 610.4L1450.3 609.2L1456.3 608.7L1460.8 608.6L1465.8 608.8L1479.8 610.4L1483.3 610.6L1486.3 610.4L1492.3 609.6L1495.3 609.4L1516.3 609.9L1533.8 610.1L1536.8 610.0L1543.8 609.2L1553.3 608.7L1556.3 608.8L1563.3 609.4L1569.8 609.8L1576.8 610.0L1581.8 609.7L1601.8 608.3L1615.3 608.2L1625.3 607.7L1635.3 607.5L1639.3 607.5L1641.8 607.6L1650.3 608.7L1657.8 609.6L1661.3 609.9L1664.3 610.0L1674.8 609.8L1680.3 609.7L1690.3 608.9L1707.8 607.4L1713.3 607.2L1718.8 607.3L1727.8 607.7L1749.8 609.3L1755.3 609.2L1768.8 608.2L1771.8 608.1L1774.8 608.2L1786.3 609.3L1790.3 609.5L1793.3 609.2L1799.3 608.0L1806.8 607.4L1810.8 607.3L1818.3 607.8L1828.8 607.6L1831.3 607.1L1834.8 605.9L1836.8 605.0L1838.8 603.8L1840.8 602.3L1842.3 600.7L1843.8 598.6L1845.3 596.1L1846.8 592.5L1848.8 586.0L1850.3 579.4L1854.3 559.4L1856.3 551.1L1857.3 548.1L1858.3 546.1L1859.3 544.7L1859.8 544.3L1860.3 544.3L1861.3 544.7L1862.3 545.7L1862.8 546.4L1863.3 547.5L1863.8 549.0L1866.3 559.5L1870.8 579.5L1872.3 584.2L1873.8 587.4L1874.3 588.1L1874.8 588.5L1875.8 588.9L1876.8 589.1L1877.3 589.1L1877.8 588.7L1878.3 587.8L1879.3 585.4L1881.8 577.2L1883.3 573.7L1883.8 572.9L1884.3 572.4L1884.8 572.1L1886.3 571.7L1886.8 571.7L1887.3 572.0L1887.8 572.4L1888.8 573.6L1889.8 575.4L1890.8 578.4L1894.3 590.5L1895.3 593.1L1896.8 595.9L1897.8 597.2L1899.3 598.4L1900.3 598.8" fill="none" stroke="#ee4050" stroke-width="1.5" stroke-linejoin="round" clip-path="url(#clipB2)"/>
<path d="M1043.3 657.9v-9.2M1043.3 430.6v9.2M1129.5 657.9v-9.2M1129.5 430.6v9.2M1214.5 657.9v-9.2M1214.5 430.6v9.2M1300.5 657.9v-9.2M1300.5 430.6v9.2M1386.5 657.9v-9.2M1386.5 430.6v9.2M1471.5 657.9v-9.2M1471.5 430.6v9.2M1557.5 657.9v-9.2M1557.5 430.6v9.2M1643.5 657.9v-9.2M1643.5 430.6v9.2M1728.5 657.9v-9.2M1728.5 430.6v9.2M1814.5 657.9v-9.2M1814.5 430.6v9.2M1900.3 657.9v-9.2M1900.3 430.6v9.2M1043.3 657.9h9.2M1900.3 657.9h-9.2M1043.3 612.5h9.2M1900.3 612.5h-9.2M1043.3 566.5h9.2M1900.3 566.5h-9.2M1043.3 521.5h9.2M1900.3 521.5h-9.2M1043.3 476.5h9.2M1900.3 476.5h-9.2M1043.3 430.6h9.2M1900.3 430.6h-9.2" stroke="#303030" stroke-width="1.15" fill="none"/>
<rect x="1043.3" y="430.6" width="857.0" height="227.3" fill="none" stroke="#4c4c4c" stroke-width="1.25"/>
<g font-family='"Liberation Sans", Arial, Helvetica, sans-serif' font-size="14.8" fill="#1c1c1c" stroke="#1c1c1c" stroke-width="0.3"><text x="1043.3" y="678.5" text-anchor="middle">0</text><text x="1129.0" y="678.5" text-anchor="middle">100</text><text x="1214.7" y="678.5" text-anchor="middle">200</text><text x="1300.4" y="678.5" text-anchor="middle">300</text><text x="1386.1" y="678.5" text-anchor="middle">400</text><text x="1471.8" y="678.5" text-anchor="middle">500</text><text x="1557.5" y="678.5" text-anchor="middle">600</text><text x="1643.2" y="678.5" text-anchor="middle">700</text><text x="1728.9" y="678.5" text-anchor="middle">800</text><text x="1814.6" y="678.5" text-anchor="middle">900</text><text x="1900.3" y="678.5" text-anchor="middle">1000</text><text x="1036.3" y="663.2" text-anchor="end">-0.5</text><text x="1036.3" y="617.7" text-anchor="end">0</text><text x="1036.3" y="572.3" text-anchor="end">0.5</text><text x="1036.3" y="526.8" text-anchor="end">1</text><text x="1036.3" y="481.4" text-anchor="end">1.5</text><text x="1036.3" y="435.9" text-anchor="end">2</text></g>
<text transform="rotate(-90)" y="1002.7" font-family='"Liberation Sans", Arial, Helvetica, sans-serif' font-size="17" fill="#1c1c1c" stroke="#1c1c1c" stroke-width="0.3"><tspan x="-614.50" textLength="21.00" lengthAdjust="spacingAndGlyphs">TD</tspan> <tspan x="-587.45" textLength="22.00" lengthAdjust="spacingAndGlyphs">CV</tspan> <tspan x="-560.25" textLength="39.30" lengthAdjust="spacingAndGlyphs">Value</tspan> <tspan x="-509.85" textLength="26.05" lengthAdjust="spacingAndGlyphs">(%)</tspan></text>
</g>
<g id="plotC1">
<clipPath id="clipC1"><rect x="74.2" y="940.1" width="859.2" height="227.9"/></clipPath>
<path d="M160.5 940.1V1168.0M246.5 940.1V1168.0M331.5 940.1V1168.0M417.5 940.1V1168.0M503.5 940.1V1168.0M589.5 940.1V1168.0M675.5 940.1V1168.0M761.5 940.1V1168.0M847.5 940.1V1168.0M74.2 1122.5H933.4M74.2 1076.5H933.4M74.2 1031.5H933.4M74.2 985.5H933.4" stroke="#e4e4e4" stroke-width="1" fill="none"/>
<path d="M74.2 1106.5L79.2 1105.8L85.7 1104.4L90.7 1103.0L94.7 1101.6L97.7 1100.0L100.2 1098.2L102.2 1095.9L103.7 1093.6L104.7 1091.2L105.7 1087.8L106.7 1083.5L107.7 1077.6L111.7 1039.6L113.7 1025.8L114.7 1021.5L115.7 1018.7L116.2 1017.9L116.7 1017.4L117.2 1017.3L118.2 1017.7L119.2 1018.8L119.7 1020.2L120.7 1025.3L121.7 1033.6L124.2 1061.9L125.7 1076.1L126.7 1083.4L127.7 1089.2L129.2 1094.2L131.2 1097.9L134.2 1101.3L137.7 1104.0L142.2 1106.4L144.7 1107.2L147.2 1107.2L149.2 1106.7L150.7 1106.1L152.7 1104.4L154.7 1101.7L156.2 1098.2L157.7 1092.5L159.2 1084.5L161.2 1067.4L165.2 1022.9L166.2 1014.9L167.2 1009.7L168.2 1006.8L168.7 1005.9L169.2 1005.5L169.7 1005.6L170.2 1005.9L171.2 1007.1L171.7 1008.2L172.7 1011.9L176.2 1031.3L177.2 1034.0L177.7 1034.4L178.2 1034.4L178.7 1033.9L179.7 1032.2L180.2 1030.9L181.2 1025.9L184.7 999.3L186.2 990.3L187.7 984.3L188.7 981.8L189.2 981.3L189.7 981.4L190.2 982.2L190.7 983.6L191.7 987.9L192.7 993.3L196.7 1017.8L200.7 1047.8L202.2 1056.5L202.7 1057.6L203.2 1057.9L203.7 1057.7L204.2 1056.7L204.7 1054.6L207.7 1032.8L208.7 1028.2L209.7 1025.1L210.2 1024.1L211.2 1022.9L212.2 1022.4L212.7 1022.3L213.7 1022.7L215.2 1024.6L216.7 1028.4L218.2 1035.5L220.2 1051.4L224.2 1087.6L225.7 1097.0L227.2 1102.8L228.7 1106.8L229.7 1108.7L231.7 1111.6L232.7 1112.8L234.2 1114.1L237.2 1115.4L239.7 1115.9L241.2 1115.7L242.7 1114.9L245.7 1112.0L247.2 1110.0L249.2 1106.2L250.7 1102.4L252.7 1094.8L254.2 1086.4L255.2 1078.5L258.2 1048.9L259.7 1038.6L260.7 1034.2L261.2 1032.8L262.2 1031.0L263.7 1029.5L264.7 1029.3L265.7 1029.6L266.7 1030.1L267.7 1031.2L268.7 1033.4L269.7 1037.1L270.7 1042.8L271.7 1050.4L274.2 1073.4L275.2 1081.0L276.7 1090.1L277.7 1093.8L278.7 1095.9L279.7 1097.4L280.7 1098.4L281.7 1098.7L283.2 1098.2L284.7 1097.1L287.2 1094.7L288.7 1092.8L292.2 1087.4L294.2 1083.7L295.7 1079.8L296.7 1076.1L297.7 1071.2L298.7 1064.9L302.2 1033.3L303.2 1025.8L304.2 1020.8L305.2 1017.4L306.2 1015.6L307.2 1014.7L307.7 1014.6L308.2 1014.7L308.7 1015.3L309.2 1016.3L310.2 1020.3L311.2 1027.9L314.2 1055.9L315.2 1062.9L316.7 1070.1L317.7 1072.9L318.7 1074.7L319.7 1075.7L320.2 1075.9L320.7 1075.9L321.2 1075.4L321.7 1074.1L322.2 1072.1L323.2 1065.7L323.7 1061.1L326.2 1032.7L327.2 1023.8L328.7 1015.6L329.7 1013.1L330.2 1012.5L330.7 1012.4L331.2 1012.7L332.2 1015.1L333.2 1020.2L339.2 1083.5L340.7 1092.9L342.2 1097.8L342.7 1098.7L343.2 1099.3L343.7 1099.5L349.7 1099.4L353.7 1098.2L357.2 1097.7L363.7 1094.3L365.2 1093.7L366.2 1093.6L368.2 1094.2L371.2 1095.9L373.7 1097.6L374.7 1097.7L375.2 1097.2L376.2 1094.5L377.2 1089.8L378.2 1083.7L384.7 1019.6L386.7 1003.8L390.2 979.9L392.7 965.6L393.7 962.6L394.7 960.9L395.2 960.6L395.7 960.7L396.7 962.5L398.2 967.7L399.7 976.8L400.7 985.4L401.7 997.6L405.7 1064.7L407.2 1082.7L408.2 1090.6L409.7 1098.4L410.7 1101.8L411.7 1104.1L412.7 1105.8L414.2 1107.8L416.7 1109.8L418.2 1110.4L419.7 1110.4L421.7 1109.9L426.7 1108.3L430.7 1106.7L445.7 1099.2L457.2 1094.4L458.7 1093.5L459.7 1092.6L460.7 1091.0L461.7 1088.2L462.7 1084.4L463.7 1078.7L465.7 1061.0L469.2 1024.4L470.7 1014.7L471.2 1012.7L472.2 1010.2L473.2 1008.8L474.2 1008.3L474.7 1008.7L475.2 1009.5L476.7 1014.8L479.2 1027.6L479.7 1029.3L480.2 1030.2L480.7 1030.4L481.7 1029.2L482.7 1026.7L484.2 1021.6L484.7 1020.5L485.7 1019.0L486.7 1018.3L488.2 1017.9L489.2 1018.2L489.7 1018.9L490.7 1021.1L491.7 1024.7L494.7 1042.9L495.2 1044.2L495.7 1044.2L496.2 1043.3L496.7 1041.5L497.2 1038.5L499.7 1015.9L500.7 1009.1L501.7 1005.1L502.2 1003.9L502.7 1003.4L503.2 1003.3L503.7 1003.6L504.2 1004.2L504.7 1005.4L505.2 1007.4L506.7 1018.1L511.7 1076.2L512.7 1086.2L513.7 1093.5L515.2 1100.9L516.2 1103.3L517.2 1104.3L518.7 1104.9L519.7 1104.7L520.2 1104.2L523.2 1098.8L527.7 1092.7L531.2 1087.4L533.2 1083.0L535.2 1076.2L536.7 1069.2L538.2 1059.4L541.7 1032.3L544.7 1005.1L546.2 994.1L547.2 988.8L548.2 985.1L548.7 983.7L549.2 982.9L549.7 982.8L550.2 983.4L550.7 984.5L551.2 986.3L551.7 988.9L552.7 997.1L556.7 1048.3L559.2 1074.3L560.2 1081.6L561.2 1087.0L562.2 1091.2L563.2 1094.5L564.7 1098.2L566.2 1100.9L567.7 1102.5L570.2 1104.3L572.2 1105.0L578.7 1105.4L583.7 1106.5L587.2 1107.6L595.2 1111.0L597.2 1111.3L601.7 1111.1L602.7 1110.7L605.2 1108.7L607.7 1107.0L609.7 1106.0L611.2 1105.8L615.7 1105.8L617.2 1106.3L619.2 1107.5L621.2 1109.0L625.7 1112.7L628.7 1114.7L630.7 1115.8L634.2 1117.2L637.2 1118.0L640.7 1118.5L645.2 1118.7L650.2 1118.5L665.7 1116.8L677.7 1116.2L680.2 1115.6L683.7 1114.3L688.7 1111.9L690.2 1111.5L693.7 1111.0L696.7 1111.0L702.2 1112.8L705.7 1113.4L707.7 1113.5L708.7 1112.9L709.7 1111.6L712.2 1107.1L715.2 1100.9L717.7 1096.7L718.7 1095.6L719.7 1094.9L720.7 1094.3L721.7 1094.1L723.2 1094.8L724.7 1096.2L725.7 1097.5L727.7 1101.2L731.2 1108.4L732.7 1110.7L734.7 1112.9L736.7 1114.4L739.7 1116.0L742.2 1116.9L746.2 1117.7L749.2 1118.0L751.7 1117.5L756.2 1115.5L761.7 1112.0L766.7 1109.8L770.2 1108.7L779.7 1106.7L785.7 1104.7L788.2 1103.5L791.2 1101.6L793.7 1099.6L796.2 1097.2L798.7 1094.2L800.7 1091.3L802.2 1088.7L803.7 1085.5L805.2 1080.7L806.2 1076.0L811.2 1046.8L813.2 1036.4L814.7 1030.8L815.7 1028.0L816.7 1026.0L817.7 1024.7L819.2 1023.4L820.2 1023.2L820.7 1023.5L821.2 1024.1L822.7 1027.5L826.2 1040.9L826.7 1042.2L827.2 1042.8L827.7 1042.7L828.2 1041.9L828.7 1040.4L829.2 1038.3L831.7 1020.7L833.2 1013.9L834.2 1011.7L836.7 1008.7L840.7 1002.0L841.7 1000.6L842.2 1000.2L842.7 1000.2L843.2 1000.6L844.7 1003.6L847.2 1010.4L848.7 1016.4L849.7 1022.5L850.7 1030.4L854.7 1073.5L856.2 1085.6L857.7 1094.0L858.7 1097.7L860.7 1102.7L862.2 1104.8L863.7 1105.8L865.2 1106.4L866.2 1106.5L867.2 1106.1L868.7 1104.4L870.2 1101.9L871.2 1099.7L872.2 1096.7L873.7 1090.5L875.2 1080.4L876.7 1065.6L879.2 1035.3L880.2 1026.4L881.2 1020.5L882.2 1017.1L883.2 1015.4L884.2 1014.5L886.7 1013.8L887.7 1013.0L891.2 1004.9L892.2 1003.5L892.7 1003.3L893.2 1003.5L893.7 1004.0L895.7 1007.7L896.7 1010.8L897.7 1016.1L899.2 1031.1L902.7 1076.2L904.2 1087.6L904.7 1090.0L905.7 1092.9L906.2 1093.7L907.2 1094.7L908.7 1095.3L915.2 1095.2L917.7 1094.8L918.7 1094.5L920.2 1093.3L922.2 1091.2L925.7 1086.3L928.7 1082.5L931.7 1079.7L932.7 1078.9L933.4 1078.6L933.4 1116.7L929.7 1116.5L925.7 1116.0L915.7 1113.0L912.2 1112.4L908.7 1112.0L907.7 1112.1L906.7 1112.5L905.2 1113.6L904.2 1115.1L903.7 1116.6L901.7 1125.7L899.7 1133.4L898.2 1137.3L897.2 1138.9L896.7 1139.2L895.7 1139.1L894.2 1137.8L891.2 1130.8L890.2 1129.2L889.7 1128.9L889.2 1129.1L888.2 1130.5L887.2 1132.6L885.7 1136.9L884.7 1138.8L883.2 1140.3L882.2 1140.8L881.7 1140.8L881.2 1140.4L880.2 1138.5L878.2 1133.3L875.7 1125.6L872.7 1119.0L871.7 1117.5L869.7 1115.4L868.7 1114.7L867.7 1114.4L865.7 1114.6L863.2 1115.5L861.7 1116.7L860.2 1118.5L858.7 1120.6L857.2 1123.7L855.2 1128.7L853.2 1134.7L852.2 1136.9L850.2 1139.1L849.2 1139.6L848.7 1139.5L847.7 1138.5L846.2 1136.0L845.2 1133.8L843.2 1128.6L841.7 1125.7L840.7 1124.2L840.2 1123.7L839.2 1123.5L836.7 1124.4L836.2 1124.3L835.2 1123.2L833.7 1120.2L830.7 1111.8L830.2 1110.6L829.7 1110.0L829.2 1110.1L828.2 1112.4L826.7 1117.6L824.2 1127.8L822.2 1134.3L821.7 1135.6L820.7 1137.2L819.2 1138.5L818.2 1138.9L817.7 1139.0L816.7 1138.5L814.7 1136.2L813.2 1133.9L808.7 1125.2L807.2 1122.6L804.7 1119.9L802.7 1118.5L798.7 1117.2L794.2 1116.5L787.7 1116.0L776.7 1115.6L773.7 1115.7L770.2 1116.1L763.7 1117.4L756.2 1119.2L749.7 1120.2L745.7 1120.2L736.7 1118.6L733.2 1118.3L731.2 1118.5L728.7 1119.0L726.7 1119.5L723.7 1120.7L722.2 1120.9L720.2 1120.7L717.2 1120.1L713.2 1118.3L711.7 1117.8L705.7 1117.2L702.7 1117.3L696.7 1118.2L689.2 1118.7L685.2 1118.7L677.2 1118.3L667.7 1118.6L660.2 1119.2L650.7 1120.6L646.7 1120.9L642.7 1120.8L637.2 1120.3L630.2 1119.1L621.2 1119.1L619.2 1119.5L615.2 1121.1L613.2 1121.4L603.2 1121.3L597.2 1120.5L590.2 1119.0L577.7 1117.7L574.7 1117.5L567.7 1117.5L565.2 1118.0L561.7 1119.2L559.7 1120.0L558.2 1120.9L557.2 1121.8L556.7 1122.5L554.7 1126.4L553.7 1127.3L552.2 1128.2L550.7 1128.7L546.2 1128.4L545.2 1128.6L544.2 1129.5L542.7 1131.5L540.7 1135.2L540.2 1135.9L539.7 1136.3L539.2 1136.2L538.2 1134.2L533.7 1120.0L532.7 1118.3L531.2 1116.5L530.2 1115.6L528.7 1114.9L523.7 1113.5L518.7 1111.3L516.2 1110.7L514.7 1110.5L513.7 1110.8L513.2 1111.2L512.2 1112.4L511.2 1114.0L510.2 1116.7L509.2 1120.1L506.7 1130.1L505.7 1132.7L504.2 1135.0L503.7 1135.3L502.7 1135.2L501.7 1134.6L500.7 1133.4L497.2 1123.8L496.7 1122.8L496.2 1122.4L495.7 1122.8L495.2 1123.8L494.2 1127.0L491.7 1138.0L490.2 1141.6L489.2 1143.0L488.7 1143.1L488.2 1142.9L487.7 1142.4L485.7 1138.7L481.7 1126.7L480.7 1124.8L480.2 1124.8L479.7 1125.4L478.7 1127.5L476.7 1134.1L475.7 1136.5L474.2 1138.9L473.7 1139.2L473.2 1139.2L472.2 1138.7L470.7 1136.8L469.7 1134.5L467.7 1128.5L465.7 1123.6L464.7 1122.1L463.7 1121.4L461.7 1120.7L459.2 1120.3L448.2 1119.7L433.2 1118.3L415.2 1118.1L413.7 1117.6L406.7 1113.8L405.2 1113.4L401.7 1112.9L400.7 1112.5L399.7 1111.9L398.7 1111.0L397.7 1109.6L394.7 1102.6L393.7 1101.3L393.2 1101.4L392.7 1101.9L391.2 1105.7L387.2 1124.4L385.7 1128.6L384.7 1130.3L384.2 1130.6L383.2 1130.4L381.7 1129.1L378.7 1123.8L376.7 1121.5L375.2 1120.5L373.7 1120.2L367.2 1119.6L361.7 1118.1L359.2 1117.0L356.2 1115.3L353.2 1112.7L352.2 1112.1L350.7 1112.1L348.7 1112.5L346.7 1113.3L344.7 1114.5L343.7 1115.6L342.7 1117.3L339.7 1124.9L333.7 1147.3L333.2 1148.4L332.2 1149.7L331.2 1150.6L330.2 1151.0L329.7 1150.9L329.2 1150.6L328.2 1149.1L325.7 1143.0L324.2 1137.2L320.2 1119.0L318.2 1112.8L317.2 1110.9L316.7 1110.6L316.2 1110.7L315.2 1111.9L313.2 1115.9L309.7 1126.7L306.7 1134.5L305.2 1136.9L303.7 1138.5L302.7 1139.0L301.7 1138.5L295.7 1129.5L294.2 1127.8L292.2 1125.9L285.7 1121.2L283.7 1120.4L282.2 1120.3L279.2 1121.1L278.2 1121.6L277.7 1122.3L276.7 1124.5L272.7 1135.7L271.7 1138.0L270.7 1139.4L269.2 1141.1L268.2 1141.8L267.2 1142.0L264.7 1141.8L263.2 1141.5L261.7 1140.1L259.2 1136.1L255.7 1128.3L253.7 1125.0L252.2 1123.2L250.2 1122.2L245.7 1120.9L240.7 1118.9L236.7 1118.2L232.7 1118.0L229.7 1118.3L226.7 1119.1L225.7 1119.9L224.2 1121.9L222.7 1124.2L220.7 1127.9L219.7 1129.3L217.2 1131.6L215.7 1132.0L212.2 1131.6L211.2 1131.0L210.7 1130.4L208.7 1127.2L205.7 1120.5L204.2 1118.3L203.2 1117.4L202.7 1117.3L202.2 1117.4L201.2 1118.5L199.7 1121.2L198.2 1125.1L197.7 1126.0L197.2 1126.3L196.7 1126.1L196.2 1125.5L194.2 1121.6L192.7 1119.6L191.7 1118.6L190.7 1118.4L189.2 1119.3L188.2 1120.4L187.7 1121.4L183.7 1131.5L182.7 1133.4L181.7 1134.2L178.7 1135.3L177.7 1136.2L175.2 1140.4L173.2 1145.2L172.2 1147.1L170.7 1149.0L169.7 1149.7L169.2 1149.9L168.7 1149.8L167.7 1148.7L166.2 1146.0L163.7 1138.1L161.2 1128.9L160.2 1126.3L158.7 1123.6L157.7 1122.5L156.7 1121.8L154.7 1121.0L152.2 1120.4L147.7 1119.7L138.7 1119.1L133.7 1119.2L131.2 1119.7L130.2 1120.2L129.2 1121.3L128.2 1122.9L126.7 1126.1L121.7 1143.4L120.2 1146.0L119.2 1146.7L118.2 1146.4L117.2 1145.3L116.2 1143.9L115.2 1141.9L113.2 1136.4L110.7 1127.5L108.7 1121.5L107.7 1119.5L106.7 1118.6L105.2 1117.8L103.7 1117.5L96.2 1117.5L89.7 1117.2L80.7 1117.5L74.2 1117.2Z" fill="#f23f5c" fill-opacity="0.175" clip-path="url(#clipC1)"/>
<path d="M74.2 1111.6L81.7 1111.6L83.7 1111.4L89.2 1110.1L95.2 1108.9L98.2 1108.2L101.2 1107.2L103.2 1106.3L104.2 1105.5L105.2 1104.5L106.2 1103.2L107.2 1101.6L108.2 1099.2L109.7 1095.0L112.2 1087.1L112.7 1085.9L113.7 1084.1L114.7 1082.6L115.7 1081.7L116.7 1081.4L118.7 1081.3L119.7 1081.4L120.2 1081.8L121.2 1082.9L122.2 1084.5L123.2 1087.4L126.2 1098.3L127.2 1101.4L127.7 1102.6L128.7 1104.2L129.7 1105.5L130.7 1106.6L132.7 1108.0L137.2 1110.1L141.2 1112.3L142.7 1112.9L145.2 1113.6L147.2 1114.0L148.7 1114.0L150.2 1113.6L152.7 1112.5L154.7 1111.1L156.7 1109.0L158.2 1106.9L159.7 1104.1L161.7 1099.2L165.7 1085.0L166.7 1081.9L167.7 1079.9L168.7 1078.7L169.7 1077.9L170.2 1077.7L171.2 1077.9L172.2 1078.5L173.2 1079.4L173.7 1080.1L176.7 1085.3L177.2 1085.9L177.7 1086.2L178.2 1086.1L178.7 1085.9L179.7 1085.0L180.2 1084.4L180.7 1083.2L181.7 1079.7L183.2 1073.5L185.2 1064.2L187.7 1054.4L188.2 1053.0L189.2 1050.9L189.7 1050.2L190.2 1049.7L190.7 1049.7L191.2 1050.3L191.7 1051.3L193.2 1055.3L195.7 1064.4L199.7 1077.3L201.7 1084.6L202.2 1086.0L202.7 1086.9L203.7 1088.0L204.2 1088.2L204.7 1087.9L205.2 1087.1L206.7 1083.8L208.7 1079.8L209.7 1078.5L210.7 1077.7L212.2 1077.0L213.2 1076.9L215.2 1077.4L216.7 1078.1L217.7 1079.1L218.7 1080.4L219.7 1082.0L220.7 1084.1L223.2 1091.5L226.2 1101.2L228.2 1106.1L229.7 1109.1L231.7 1112.0L233.7 1114.3L234.7 1115.1L236.2 1116.1L237.7 1116.9L238.7 1117.2L239.7 1117.5L241.2 1117.4L242.7 1117.0L245.2 1115.9L246.7 1115.1L248.2 1114.1L249.7 1112.8L251.2 1111.2L252.7 1108.8L254.7 1104.3L255.7 1101.7L257.7 1095.4L259.2 1091.6L260.2 1089.5L261.2 1088.0L262.2 1087.0L263.2 1086.2L264.2 1085.8L267.7 1085.8L268.7 1085.9L269.7 1086.5L271.2 1088.2L272.2 1090.1L272.7 1091.4L276.2 1102.2L277.2 1104.8L278.2 1106.4L279.2 1107.5L280.2 1108.4L281.2 1108.8L282.2 1108.9L284.7 1108.7L288.2 1108.1L292.2 1107.0L294.2 1106.2L295.7 1105.5L297.2 1104.2L297.7 1103.4L298.2 1102.1L302.7 1084.9L304.2 1080.6L305.2 1078.5L306.7 1076.0L308.7 1073.5L309.2 1073.2L309.7 1073.0L310.7 1073.1L311.7 1073.6L312.2 1074.0L312.7 1074.8L316.7 1087.0L318.2 1090.9L319.7 1094.3L320.2 1095.1L321.2 1095.9L322.2 1096.3L322.7 1096.2L323.2 1095.7L324.7 1092.2L326.7 1086.1L327.7 1084.1L328.7 1082.6L329.2 1082.0L329.7 1081.7L330.2 1081.6L332.7 1081.8L333.2 1081.9L333.7 1082.4L334.7 1084.2L336.2 1088.3L338.2 1095.7L339.7 1100.1L340.7 1102.6L341.2 1103.5L342.2 1104.5L343.7 1105.3L345.2 1105.7L352.2 1105.8L356.2 1106.3L364.7 1106.7L366.7 1107.1L373.2 1109.1L374.2 1109.3L375.2 1109.3L375.7 1109.0L376.7 1108.1L377.7 1106.8L378.2 1105.9L378.7 1104.6L379.7 1101.0L382.2 1090.5L387.7 1065.3L390.2 1052.8L392.7 1038.4L394.2 1033.0L395.2 1030.7L395.7 1030.2L396.2 1030.3L396.7 1030.8L398.7 1035.2L400.2 1039.7L401.7 1046.0L403.7 1058.5L407.7 1090.1L408.7 1095.7L409.7 1099.7L411.2 1104.3L412.7 1107.6L413.7 1109.3L414.7 1110.6L416.2 1112.0L417.2 1112.7L418.2 1113.1L420.7 1113.0L424.7 1112.5L431.7 1111.1L447.7 1108.4L457.2 1107.4L458.7 1107.0L460.2 1106.4L462.2 1105.0L463.2 1104.0L464.7 1101.8L466.2 1098.6L467.2 1095.3L471.2 1078.1L472.2 1075.9L473.2 1074.5L473.7 1074.0L474.2 1073.6L475.2 1073.5L476.7 1073.7L478.2 1074.2L480.7 1076.3L482.2 1077.2L485.2 1078.5L488.7 1079.6L491.2 1080.9L492.7 1081.9L494.7 1084.2L495.2 1084.5L495.7 1084.5L496.2 1083.9L497.2 1081.4L500.2 1071.4L501.2 1069.7L502.2 1068.6L503.2 1067.9L503.7 1067.9L504.7 1068.1L506.2 1069.3L507.2 1070.7L507.7 1071.9L509.7 1079.2L513.7 1097.1L514.7 1100.8L515.2 1102.2L516.7 1105.2L517.7 1106.7L518.2 1107.2L518.7 1107.6L519.2 1107.8L520.2 1107.7L521.2 1107.3L528.2 1103.4L532.7 1101.5L533.7 1100.7L534.2 1100.2L535.2 1098.5L537.7 1092.9L539.7 1086.8L541.7 1079.3L544.2 1067.8L545.7 1062.0L546.7 1058.8L547.2 1057.8L548.2 1056.4L549.2 1055.4L549.7 1055.2L550.2 1055.1L550.7 1055.2L551.2 1055.6L552.2 1057.0L553.2 1059.0L553.7 1060.7L555.7 1069.8L558.7 1084.7L560.2 1091.2L561.2 1094.8L562.7 1098.9L564.2 1102.2L565.7 1104.7L567.2 1106.7L568.7 1108.3L569.7 1109.1L571.7 1110.3L573.7 1111.0L575.2 1111.3L581.2 1111.6L583.2 1111.9L587.7 1112.9L593.2 1114.8L598.2 1115.8L599.7 1115.9L601.2 1115.9L605.7 1115.2L607.2 1114.8L610.2 1113.7L611.7 1113.3L615.7 1113.2L619.2 1113.2L621.7 1113.8L630.7 1117.1L636.2 1118.6L638.7 1119.0L643.7 1119.7L646.2 1119.8L648.7 1119.7L665.2 1118.0L676.7 1117.5L681.7 1117.1L685.7 1116.6L690.7 1115.6L696.2 1114.8L698.7 1114.8L703.2 1115.4L704.7 1115.4L706.7 1115.2L708.7 1114.8L709.7 1114.4L711.2 1113.4L717.7 1108.7L720.2 1107.4L721.2 1107.1L722.2 1107.1L724.7 1107.5L725.7 1107.8L726.7 1108.3L730.2 1111.1L734.7 1114.5L736.7 1115.6L739.2 1116.6L742.2 1117.6L747.2 1118.9L749.7 1119.0L752.2 1118.7L756.2 1117.5L761.7 1115.1L766.2 1113.4L768.7 1112.7L774.2 1111.7L778.2 1111.1L784.2 1110.6L787.7 1109.9L797.2 1106.6L800.2 1105.2L802.7 1103.9L805.2 1102.0L807.2 1099.8L810.7 1094.6L814.2 1088.6L816.2 1085.9L818.2 1083.5L821.2 1080.9L822.7 1079.9L823.7 1079.6L826.7 1079.3L827.2 1079.2L827.7 1078.8L828.7 1077.3L832.2 1070.1L833.2 1068.6L834.2 1068.0L836.2 1067.4L837.2 1066.8L839.7 1064.4L841.7 1062.1L842.2 1061.7L842.7 1061.7L843.2 1062.0L843.7 1062.5L844.7 1064.2L846.7 1070.3L847.7 1072.6L849.7 1076.4L850.7 1079.0L853.2 1086.9L855.2 1095.2L856.2 1098.8L858.2 1104.4L859.2 1106.4L860.7 1108.5L862.2 1109.9L864.2 1110.9L865.2 1111.2L866.2 1111.2L868.2 1110.4L871.2 1108.6L872.7 1107.3L873.7 1106.1L875.2 1103.3L876.7 1099.6L881.2 1084.0L882.2 1081.2L882.7 1080.1L883.7 1078.6L885.7 1076.4L886.7 1075.2L888.7 1071.5L889.7 1069.9L891.2 1068.3L892.2 1067.6L892.7 1067.6L893.2 1067.9L893.7 1068.4L896.7 1072.5L898.7 1075.4L899.7 1077.3L900.7 1080.1L904.2 1094.2L905.7 1099.1L906.7 1101.5L907.2 1102.1L908.2 1103.0L909.2 1103.5L910.7 1103.8L914.7 1103.9L919.2 1103.9L920.2 1103.8L922.2 1103.0L928.7 1099.1L931.2 1098.1L933.4 1097.5" fill="none" stroke="#ee4050" stroke-width="1.5" stroke-linejoin="round" clip-path="url(#clipC1)"/>
<path d="M74.2 1168.0v-9.2M74.2 940.1v9.2M160.5 1168.0v-9.2M160.5 940.1v9.2M246.5 1168.0v-9.2M246.5 940.1v9.2M331.5 1168.0v-9.2M331.5 940.1v9.2M417.5 1168.0v-9.2M417.5 940.1v9.2M503.5 1168.0v-9.2M503.5 940.1v9.2M589.5 1168.0v-9.2M589.5 940.1v9.2M675.5 1168.0v-9.2M675.5 940.1v9.2M761.5 1168.0v-9.2M761.5 940.1v9.2M847.5 1168.0v-9.2M847.5 940.1v9.2M933.4 1168.0v-9.2M933.4 940.1v9.2M74.2 1168.0h9.2M933.4 1168.0h-9.2M74.2 1122.5h9.2M933.4 1122.5h-9.2M74.2 1076.5h9.2M933.4 1076.5h-9.2M74.2 1031.5h9.2M933.4 1031.5h-9.2M74.2 985.5h9.2M933.4 985.5h-9.2M74.2 940.1h9.2M933.4 940.1h-9.2" stroke="#303030" stroke-width="1.15" fill="none"/>
<rect x="74.2" y="940.1" width="859.2" height="227.9" fill="none" stroke="#4c4c4c" stroke-width="1.25"/>
<g font-family='"Liberation Sans", Arial, Helvetica, sans-serif' font-size="14.8" fill="#1c1c1c" stroke="#1c1c1c" stroke-width="0.3"><text x="74.2" y="1188.6" text-anchor="middle">0</text><text x="160.1" y="1188.6" text-anchor="middle">100</text><text x="246.0" y="1188.6" text-anchor="middle">200</text><text x="332.0" y="1188.6" text-anchor="middle">300</text><text x="417.9" y="1188.6" text-anchor="middle">400</text><text x="503.8" y="1188.6" text-anchor="middle">500</text><text x="589.7" y="1188.6" text-anchor="middle">600</text><text x="675.6" y="1188.6" text-anchor="middle">700</text><text x="761.6" y="1188.6" text-anchor="middle">800</text><text x="847.5" y="1188.6" text-anchor="middle">900</text><text x="933.4" y="1188.6" text-anchor="middle">1000</text><text x="67.2" y="1173.3" text-anchor="end">-0.5</text><text x="67.2" y="1127.7" text-anchor="end">0</text><text x="67.2" y="1082.1" text-anchor="end">0.5</text><text x="67.2" y="1036.6" text-anchor="end">1</text><text x="67.2" y="991.0" text-anchor="end">1.5</text><text x="67.2" y="945.4" text-anchor="end">2</text></g>
<text transform="rotate(-90)" y="33.6" font-family='"Liberation Sans", Arial, Helvetica, sans-serif' font-size="17" fill="#1c1c1c" stroke="#1c1c1c" stroke-width="0.3"><tspan x="-1130.40" textLength="32.60" lengthAdjust="spacingAndGlyphs">ASD</tspan> <tspan x="-1091.80" textLength="22.00" lengthAdjust="spacingAndGlyphs">CV</tspan> <tspan x="-1064.60" textLength="39.30" lengthAdjust="spacingAndGlyphs">Value</tspan> <tspan x="-1014.20" textLength="26.05" lengthAdjust="spacingAndGlyphs">(%)</tspan></text>
<text x="503.8" y="935.1" text-anchor="middle" font-family='"Liberation Sans", Arial, Helvetica, sans-serif' font-size="16.2" fill="#1c1c1c" stroke="#1c1c1c" stroke-width="0.3" xml:space="preserve">(C4)  CV Plot</text>
</g>
<g id="plotC2">
<clipPath id="clipC2"><rect x="74.2" y="1256.5" width="859.2" height="227.8"/></clipPath>
<path d="M160.5 1256.5V1484.3M246.5 1256.5V1484.3M331.5 1256.5V1484.3M417.5 1256.5V1484.3M503.5 1256.5V1484.3M589.5 1256.5V1484.3M675.5 1256.5V1484.3M761.5 1256.5V1484.3M847.5 1256.5V1484.3M74.2 1438.5H933.4M74.2 1393.5H933.4M74.2 1347.5H933.4M74.2 1302.5H933.4" stroke="#e4e4e4" stroke-width="1" fill="none"/>
<path d="M74.2 1418.6L80.2 1418.6L82.2 1418.2L83.2 1417.6L83.7 1417.1L84.2 1416.2L84.7 1414.5L87.2 1399.7L94.7 1347.1L95.7 1339.3L98.7 1311.0L99.7 1304.1L100.7 1300.2L101.2 1299.1L102.2 1297.9L102.7 1297.8L103.2 1298.2L103.7 1298.9L105.2 1302.7L108.2 1312.4L108.7 1313.6L109.2 1314.2L109.7 1314.0L110.2 1313.0L110.7 1311.3L111.2 1308.8L113.2 1293.3L114.2 1287.3L115.2 1283.8L116.2 1282.2L116.7 1281.8L117.2 1281.7L117.7 1281.9L118.2 1282.5L119.2 1285.0L119.7 1287.1L120.7 1293.8L128.2 1368.8L130.7 1387.9L132.2 1397.2L133.2 1402.2L134.7 1408.0L136.2 1412.6L137.7 1415.9L139.2 1418.5L141.7 1421.7L145.2 1425.3L146.7 1426.2L149.2 1426.9L152.2 1427.2L154.2 1427.0L160.7 1424.4L164.2 1422.6L166.2 1421.0L168.2 1418.8L169.7 1415.9L170.7 1412.9L171.7 1409.2L172.7 1404.1L174.2 1392.0L176.2 1371.1L179.7 1328.2L181.2 1315.6L182.2 1309.7L183.2 1305.3L188.7 1286.1L189.2 1284.7L189.7 1283.9L190.2 1284.1L190.7 1285.0L192.7 1291.7L193.7 1296.8L194.7 1303.8L196.7 1323.6L201.2 1377.5L203.2 1394.1L204.2 1399.5L204.7 1400.9L205.2 1401.3L205.7 1400.3L206.7 1395.1L207.7 1385.9L211.7 1339.5L213.2 1327.3L215.2 1316.1L215.7 1314.3L216.7 1312.0L217.7 1310.8L218.2 1310.7L218.7 1311.2L219.2 1312.3L221.7 1320.1L222.2 1320.7L222.7 1320.4L223.2 1319.3L224.2 1315.8L226.7 1303.1L228.7 1295.3L230.7 1289.3L231.7 1287.4L232.2 1286.8L232.7 1286.6L233.2 1287.0L233.7 1287.9L234.7 1291.4L236.2 1300.8L243.2 1368.9L245.7 1389.3L246.7 1395.9L248.2 1403.8L249.7 1410.1L250.7 1413.4L252.2 1417.1L254.2 1420.6L255.7 1422.4L258.7 1424.8L260.2 1425.5L261.2 1425.7L267.2 1425.7L268.7 1425.9L270.2 1426.6L278.7 1431.8L280.7 1432.6L283.2 1432.6L286.2 1432.1L289.7 1431.1L292.2 1429.7L299.2 1424.8L302.2 1422.3L305.7 1418.6L308.2 1414.7L309.7 1411.1L310.7 1407.9L312.2 1402.1L313.2 1397.3L314.7 1387.2L317.7 1363.1L319.2 1354.6L320.2 1351.2L321.2 1349.2L322.2 1348.1L323.7 1347.3L325.2 1347.7L326.7 1349.0L327.7 1351.3L328.2 1353.2L329.7 1361.8L332.7 1387.8L334.2 1399.1L335.2 1403.9L336.7 1409.0L337.7 1411.5L339.2 1413.9L341.7 1416.2L345.2 1418.5L349.2 1420.6L354.7 1422.9L357.7 1423.8L365.7 1425.8L381.7 1430.7L390.7 1433.1L401.7 1435.3L405.7 1435.7L418.7 1435.5L432.7 1435.1L444.2 1435.4L455.2 1436.1L465.7 1436.3L474.7 1435.2L486.7 1434.8L497.2 1435.1L508.7 1436.0L522.2 1436.6L563.7 1436.3L598.7 1436.9L619.2 1436.9L624.7 1436.8L634.7 1436.1L641.7 1435.4L648.2 1435.3L656.2 1434.4L666.7 1433.5L670.7 1433.6L677.2 1434.0L687.7 1435.1L700.2 1435.0L703.2 1434.8L706.7 1434.2L711.2 1433.2L715.2 1432.0L722.7 1429.0L726.7 1427.0L729.7 1425.0L732.2 1422.8L734.2 1420.4L736.2 1417.1L737.2 1414.8L738.2 1411.6L739.2 1407.7L740.2 1402.3L741.2 1394.6L744.2 1367.0L746.2 1352.3L747.2 1347.7L748.2 1344.6L749.2 1342.9L749.7 1342.5L750.7 1342.2L751.7 1342.6L752.7 1344.0L753.7 1347.3L754.2 1350.1L755.2 1357.4L756.2 1366.8L759.2 1400.9L760.2 1407.6L761.2 1412.2L762.2 1415.7L763.2 1418.1L765.7 1422.4L767.7 1424.8L769.7 1426.6L771.7 1428.2L773.7 1429.4L777.7 1431.2L781.2 1432.3L783.7 1432.7L789.7 1433.3L794.7 1433.5L799.7 1433.3L806.7 1432.5L815.7 1430.9L821.7 1430.5L826.2 1430.4L829.7 1430.7L836.2 1431.8L852.7 1435.1L855.7 1435.4L864.7 1435.5L868.2 1435.1L873.7 1433.6L885.7 1431.0L901.2 1427.2L903.7 1426.9L910.2 1427.0L911.7 1427.2L913.2 1427.6L925.2 1432.6L929.7 1433.7L933.4 1434.3L933.4 1437.1L919.2 1436.8L914.7 1436.4L909.7 1436.9L885.7 1436.8L874.7 1437.3L865.7 1436.8L853.2 1436.6L843.7 1437.3L829.7 1438.9L826.2 1439.2L820.7 1439.0L813.7 1439.2L806.7 1438.5L798.7 1438.3L780.2 1437.4L773.2 1437.9L766.7 1439.2L763.2 1439.5L760.7 1438.3L759.7 1438.1L759.2 1438.3L758.7 1439.1L758.2 1440.9L755.2 1457.6L754.2 1462.2L753.2 1465.6L752.2 1467.6L751.2 1468.7L747.7 1469.7L746.7 1469.2L745.7 1468.2L744.7 1466.8L744.2 1465.6L740.2 1450.0L739.2 1447.1L738.2 1445.2L736.7 1443.1L735.7 1442.2L733.7 1441.1L730.7 1440.1L727.2 1439.5L707.2 1437.7L701.7 1437.3L672.7 1436.4L665.2 1436.4L649.7 1437.2L641.7 1437.3L623.2 1438.1L600.2 1438.2L563.7 1437.6L522.7 1437.9L497.7 1436.7L486.2 1436.3L479.2 1436.5L467.2 1437.5L463.2 1437.6L454.7 1437.4L443.2 1436.6L430.2 1436.3L403.7 1437.3L364.7 1439.7L356.7 1439.9L354.2 1439.8L351.7 1439.4L339.2 1441.2L336.7 1442.0L335.2 1443.0L334.2 1444.0L333.2 1446.0L330.2 1456.7L329.2 1459.1L328.2 1460.2L327.2 1460.9L326.2 1461.4L325.2 1461.6L324.2 1461.4L322.7 1460.8L321.7 1460.2L320.7 1459.2L319.7 1457.3L318.2 1453.7L315.2 1444.7L313.2 1441.0L312.2 1439.7L311.2 1439.0L307.7 1438.0L302.7 1437.3L295.7 1436.9L285.2 1436.9L282.2 1437.2L275.7 1438.9L270.7 1439.4L267.7 1439.3L264.2 1438.0L260.7 1436.1L256.2 1432.4L251.2 1427.2L247.7 1424.8L246.2 1424.2L245.2 1424.2L242.7 1426.0L242.2 1426.3L241.7 1426.3L241.2 1425.6L240.7 1424.3L234.2 1401.5L232.7 1398.6L231.7 1397.7L231.2 1397.7L230.2 1398.2L229.2 1399.2L226.2 1404.4L225.2 1405.1L223.7 1405.7L223.2 1406.1L222.7 1406.8L222.2 1408.4L221.2 1413.1L218.2 1431.5L216.2 1441.7L214.2 1448.6L213.2 1450.3L211.7 1451.3L211.2 1451.3L210.7 1450.9L210.2 1450.0L206.2 1439.0L205.7 1437.8L204.7 1436.4L203.2 1435.4L201.7 1435.1L198.2 1436.2L197.7 1436.1L197.2 1435.7L196.7 1435.0L195.2 1431.9L194.2 1429.3L190.7 1417.6L189.7 1415.7L188.7 1415.0L187.7 1414.8L187.2 1415.0L186.7 1415.6L182.2 1425.4L180.2 1428.2L178.7 1429.6L177.7 1430.0L177.2 1429.9L173.2 1426.8L172.2 1426.5L171.2 1426.6L169.7 1427.2L166.2 1429.1L162.2 1432.1L158.7 1434.3L157.7 1434.8L156.7 1435.0L154.7 1434.9L151.2 1434.1L145.7 1432.3L139.2 1430.6L134.2 1428.9L129.2 1428.8L128.2 1429.3L126.7 1430.4L125.7 1430.5L124.2 1429.5L121.2 1426.0L119.2 1423.2L117.2 1419.5L116.2 1418.1L114.7 1417.6L113.7 1417.9L113.2 1418.5L112.2 1420.8L111.2 1424.5L107.2 1452.0L105.2 1462.8L104.2 1466.3L103.2 1468.7L102.2 1470.4L101.7 1471.0L101.2 1471.2L100.7 1471.0L99.7 1469.7L97.2 1464.4L90.7 1445.9L87.2 1434.6L85.7 1430.9L84.7 1428.9L83.7 1427.9L82.2 1427.1L77.2 1425.6L74.2 1424.9Z" fill="#f23f5c" fill-opacity="0.175" clip-path="url(#clipC2)"/>
<path d="M74.2 1421.8L78.7 1422.2L82.2 1422.8L83.2 1422.8L83.7 1422.7L84.7 1422.1L85.7 1421.0L86.7 1419.6L89.7 1412.6L91.7 1408.5L92.7 1406.7L95.2 1403.1L96.2 1401.2L98.2 1396.1L100.7 1388.7L101.7 1386.3L102.7 1384.8L104.2 1383.3L105.2 1382.7L107.2 1382.0L108.2 1381.6L108.7 1381.1L109.7 1379.3L110.7 1376.5L111.2 1374.4L113.2 1363.1L114.7 1355.7L115.2 1354.0L116.2 1351.4L116.7 1350.5L117.2 1349.9L117.7 1349.7L118.2 1349.9L118.7 1350.4L119.7 1351.9L120.2 1352.9L121.2 1356.0L123.2 1364.2L129.7 1396.9L131.2 1403.7L132.7 1409.3L133.7 1412.4L135.7 1417.2L137.2 1420.0L138.2 1421.4L139.7 1423.2L141.2 1424.6L142.7 1425.8L146.2 1428.0L147.7 1428.7L150.2 1429.5L151.7 1429.9L153.2 1430.1L158.7 1430.0L160.7 1429.5L164.2 1427.7L165.7 1426.6L167.2 1425.3L168.7 1423.6L169.7 1422.3L171.2 1419.9L172.2 1418.0L173.7 1414.2L174.7 1411.0L175.7 1406.9L180.2 1379.8L181.7 1372.3L183.2 1367.0L186.7 1356.8L189.2 1350.5L189.7 1349.6L190.2 1349.3L190.7 1349.6L191.2 1350.4L192.7 1354.3L193.7 1357.9L195.7 1366.6L196.7 1371.3L197.7 1376.8L201.7 1405.4L203.2 1414.3L203.7 1416.6L204.2 1418.3L204.7 1419.5L205.2 1420.4L205.7 1421.0L206.2 1421.1L206.7 1420.6L207.2 1419.5L208.7 1414.3L211.7 1400.0L214.7 1386.9L216.7 1379.1L218.7 1372.4L219.7 1369.9L220.2 1369.0L223.2 1365.3L224.7 1362.9L225.7 1361.0L227.2 1357.3L231.2 1344.6L232.2 1342.8L232.7 1342.2L233.2 1341.8L233.7 1341.8L234.2 1342.5L234.7 1343.6L235.7 1346.7L236.2 1348.9L242.7 1386.9L246.2 1404.4L247.2 1408.3L248.2 1411.3L249.2 1413.8L250.7 1417.0L253.2 1421.4L255.2 1424.1L258.2 1427.3L259.7 1428.6L261.2 1429.5L264.2 1430.9L268.2 1432.1L272.2 1433.0L280.7 1434.4L283.2 1434.6L285.7 1434.5L289.7 1433.9L292.2 1433.3L297.7 1431.6L305.2 1428.7L307.7 1427.5L309.7 1426.3L311.2 1425.1L312.2 1424.1L313.2 1422.8L313.7 1421.9L316.2 1415.8L318.2 1410.5L319.2 1408.4L320.2 1406.9L321.2 1405.7L322.2 1405.0L323.7 1404.5L325.2 1404.3L326.2 1404.4L327.7 1405.0L328.7 1405.5L329.7 1406.6L330.7 1408.3L331.7 1410.3L334.7 1419.3L336.7 1423.1L337.7 1424.6L339.2 1426.2L341.2 1427.7L343.7 1429.0L348.2 1430.4L352.7 1431.3L387.2 1435.3L392.2 1435.7L400.7 1436.3L404.7 1436.5L409.2 1436.4L428.2 1435.7L432.7 1435.7L444.2 1436.0L455.2 1436.8L465.7 1436.9L468.2 1436.8L474.7 1436.0L481.7 1435.6L486.2 1435.5L497.7 1435.9L508.7 1436.6L522.7 1437.2L563.2 1436.9L596.2 1437.5L618.7 1437.6L628.2 1437.3L641.7 1436.4L648.2 1436.3L662.2 1435.1L666.7 1434.9L673.7 1435.1L678.7 1435.3L686.7 1435.9L694.2 1436.1L702.2 1436.1L711.7 1435.6L720.7 1434.4L727.7 1433.0L730.7 1432.2L733.2 1431.3L735.2 1430.4L737.2 1429.2L738.7 1427.9L739.7 1426.8L740.7 1425.4L741.2 1424.4L742.2 1421.9L746.2 1410.5L747.7 1407.8L748.7 1406.5L749.7 1405.8L751.2 1405.5L752.7 1405.4L753.2 1405.4L753.7 1405.7L754.2 1406.2L755.7 1408.4L756.7 1410.8L757.7 1414.0L760.2 1422.9L761.7 1426.4L762.7 1428.2L763.2 1428.8L764.2 1429.8L765.7 1430.9L768.2 1432.1L772.2 1433.3L777.2 1434.2L781.2 1434.8L785.2 1435.3L795.7 1435.8L802.2 1435.7L819.2 1434.8L823.7 1434.8L835.7 1435.0L854.2 1436.0L865.2 1436.2L868.7 1436.0L875.2 1435.3L885.2 1434.0L901.7 1432.0L911.7 1431.9L914.2 1432.2L918.7 1433.3L925.7 1434.8L929.7 1435.4L933.4 1435.7" fill="none" stroke="#ee4050" stroke-width="1.5" stroke-linejoin="round" clip-path="url(#clipC2)"/>
<path d="M74.2 1484.3v-9.2M74.2 1256.5v9.2M160.5 1484.3v-9.2M160.5 1256.5v9.2M246.5 1484.3v-9.2M246.5 1256.5v9.2M331.5 1484.3v-9.2M331.5 1256.5v9.2M417.5 1484.3v-9.2M417.5 1256.5v9.2M503.5 1484.3v-9.2M503.5 1256.5v9.2M589.5 1484.3v-9.2M589.5 1256.5v9.2M675.5 1484.3v-9.2M675.5 1256.5v9.2M761.5 1484.3v-9.2M761.5 1256.5v9.2M847.5 1484.3v-9.2M847.5 1256.5v9.2M933.4 1484.3v-9.2M933.4 1256.5v9.2M74.2 1484.3h9.2M933.4 1484.3h-9.2M74.2 1438.5h9.2M933.4 1438.5h-9.2M74.2 1393.5h9.2M933.4 1393.5h-9.2M74.2 1347.5h9.2M933.4 1347.5h-9.2M74.2 1302.5h9.2M933.4 1302.5h-9.2M74.2 1256.5h9.2M933.4 1256.5h-9.2" stroke="#303030" stroke-width="1.15" fill="none"/>
<rect x="74.2" y="1256.5" width="859.2" height="227.8" fill="none" stroke="#4c4c4c" stroke-width="1.25"/>
<g font-family='"Liberation Sans", Arial, Helvetica, sans-serif' font-size="14.8" fill="#1c1c1c" stroke="#1c1c1c" stroke-width="0.3"><text x="74.2" y="1504.9" text-anchor="middle">0</text><text x="160.1" y="1504.9" text-anchor="middle">100</text><text x="246.0" y="1504.9" text-anchor="middle">200</text><text x="332.0" y="1504.9" text-anchor="middle">300</text><text x="417.9" y="1504.9" text-anchor="middle">400</text><text x="503.8" y="1504.9" text-anchor="middle">500</text><text x="589.7" y="1504.9" text-anchor="middle">600</text><text x="675.6" y="1504.9" text-anchor="middle">700</text><text x="761.6" y="1504.9" text-anchor="middle">800</text><text x="847.5" y="1504.9" text-anchor="middle">900</text><text x="933.4" y="1504.9" text-anchor="middle">1000</text><text x="67.2" y="1489.6" text-anchor="end">-0.5</text><text x="67.2" y="1444.0" text-anchor="end">0</text><text x="67.2" y="1398.5" text-anchor="end">0.5</text><text x="67.2" y="1352.9" text-anchor="end">1</text><text x="67.2" y="1307.4" text-anchor="end">1.5</text><text x="67.2" y="1261.8" text-anchor="end">2</text></g>
<text transform="rotate(-90)" y="33.6" font-family='"Liberation Sans", Arial, Helvetica, sans-serif' font-size="17" fill="#1c1c1c" stroke="#1c1c1c" stroke-width="0.3"><tspan x="-1440.40" textLength="21.00" lengthAdjust="spacingAndGlyphs">TD</tspan> <tspan x="-1413.35" textLength="22.00" lengthAdjust="spacingAndGlyphs">CV</tspan> <tspan x="-1386.15" textLength="39.30" lengthAdjust="spacingAndGlyphs">Value</tspan> <tspan x="-1335.75" textLength="26.05" lengthAdjust="spacingAndGlyphs">(%)</tspan></text>
</g>
<g id="panelD">
<rect x="1158.4" y="1363.7" width="56.5" height="163.1" fill="#ff0000" stroke="#5a0000" stroke-width="1"/>
<rect x="1228.4" y="1345.4" width="57.4" height="181.4" fill="#0000ff" stroke="#00005a" stroke-width="1"/>
<rect x="1404.2" y="1189.4" width="57.8" height="337.4" fill="#ff0000" stroke="#5a0000" stroke-width="1"/>
<rect x="1474.5" y="1335.4" width="57.4" height="191.4" fill="#0000ff" stroke="#00005a" stroke-width="1"/>
<rect x="1651.1" y="1240.0" width="57.0" height="286.8" fill="#ff0000" stroke="#5a0000" stroke-width="1"/>
<rect x="1721.8" y="1279.9" width="56.3" height="246.9" fill="#0000ff" stroke="#00005a" stroke-width="1"/>
<rect x="1102.9" y="884.6" width="731.4" height="642.2" fill="none" stroke="#7c7c7c" stroke-width="2.6"/>
<path d="M1102.9 1419.8h8.6M1834.3 1419.8h-8.6M1102.9 1312.7h8.6M1834.3 1312.7h-8.6M1102.9 1205.7h8.6M1834.3 1205.7h-8.6M1102.9 1098.7h8.6M1834.3 1098.7h-8.6M1102.9 991.6h8.6M1834.3 991.6h-8.6" stroke="#7c7c7c" stroke-width="2" fill="none"/>
<path d="M1221.9 1526.8v-7.5M1221.9 884.6v8.6M1468.2 1526.8v-7.5M1468.2 884.6v8.6M1715.0 1526.8v-7.5M1715.0 884.6v8.6" stroke="#333" stroke-width="1.3" fill="none"/>
<path d="M1186.7 1363.7V1219.6M1257.1 1345.4V1127.4M1433.1 1189.4V985.5M1503.2 1335.4V1167.5M1679.6 1240.0V1048.1M1749.9 1279.9V1074.4" stroke="#000" stroke-width="4.3" fill="none"/>
<path d="M1174.1 1219.6h25.2M1174.1 1363.7h25.2M1244.5 1127.4h25.2M1244.5 1345.4h25.2M1420.5 985.5h25.2M1420.5 1189.4h25.2M1490.6 1167.5h25.2M1490.6 1335.4h25.2M1667.0 1048.1h25.2M1667.0 1240.0h25.2M1737.3 1074.4h25.2M1737.3 1279.9h25.2" stroke="#000" stroke-width="3.6" fill="none"/>
<path d="M1190.2 1099H1254" stroke="#000" stroke-width="7" stroke-linecap="round"/>
<text transform="translate(1221.8 1091.2) scale(1.13 0.9)" text-anchor="middle" font-family='"Liberation Sans", Arial, Helvetica, sans-serif' font-weight="bold" font-size="49" fill="#111">*</text>
<rect x="1606.1" y="902.5" width="213.3" height="69.8" fill="#fff" stroke="#7c7c7c" stroke-width="2.6"/>
<rect x="1618.1" y="910.9" width="127.8" height="23.2" fill="#ff0000" stroke="#300000" stroke-width="1.6"/>
<rect x="1618.1" y="941.1" width="127.8" height="23.1" fill="#0000ff" stroke="#000030" stroke-width="1.6"/>
<g font-family='"Liberation Serif", "Times New Roman", Times, serif' font-size="25" fill="#1a1a1a"><text x="1755.6" y="930.2">ASD</text><text x="1755.6" y="960.3">TD</text></g>
<g font-family='"Liberation Serif", "Times New Roman", Times, serif' font-size="31" fill="#1a1a1a"><text transform="translate(1092.4 1538.7) scale(1.1 1)" text-anchor="end">0</text><text transform="translate(1092.4 1431.7) scale(1.1 1)" text-anchor="end">0.1</text><text transform="translate(1092.4 1324.6) scale(1.1 1)" text-anchor="end">0.2</text><text transform="translate(1092.4 1217.6) scale(1.1 1)" text-anchor="end">0.3</text><text transform="translate(1092.4 1110.6) scale(1.1 1)" text-anchor="end">0.4</text><text transform="translate(1092.4 1003.5) scale(1.1 1)" text-anchor="end">0.5</text><text transform="translate(1092.4 896.5) scale(1.1 1)" text-anchor="end">0.6</text><text x="1194.1" y="1567.2" textLength="53.6" lengthAdjust="spacing">FP2</text><text x="1453.0" y="1567.2" textLength="32.0" lengthAdjust="spacing">F3</text><text x="1695.8" y="1567.2" textLength="38.6" lengthAdjust="spacing">C4</text></g>
<text x="1080.2" y="822.6" font-family='"Liberation Serif", "Times New Roman", Times, serif' font-size="46.5" fill="#000" stroke="#000" stroke-width="0.35" textLength="785.6" lengthAdjust="spacingAndGlyphs">Mean CV Values for TD and ASD Groups</text>
</g>
<g font-family='"Liberation Serif", "Times New Roman", Times, serif' fill="#000"><text x="7.4" y="43.1" font-size="46.5" stroke="#000" stroke-width="0.5">(A)</text><text x="1012.5" y="45.6" font-size="47">(B)</text><text x="9.5" y="807" font-size="47" stroke="#000" stroke-width="0.5">(C)</text><text x="993.5" y="812.5" font-size="46.5">(D)</text></g>
</svg>
</body></html>
